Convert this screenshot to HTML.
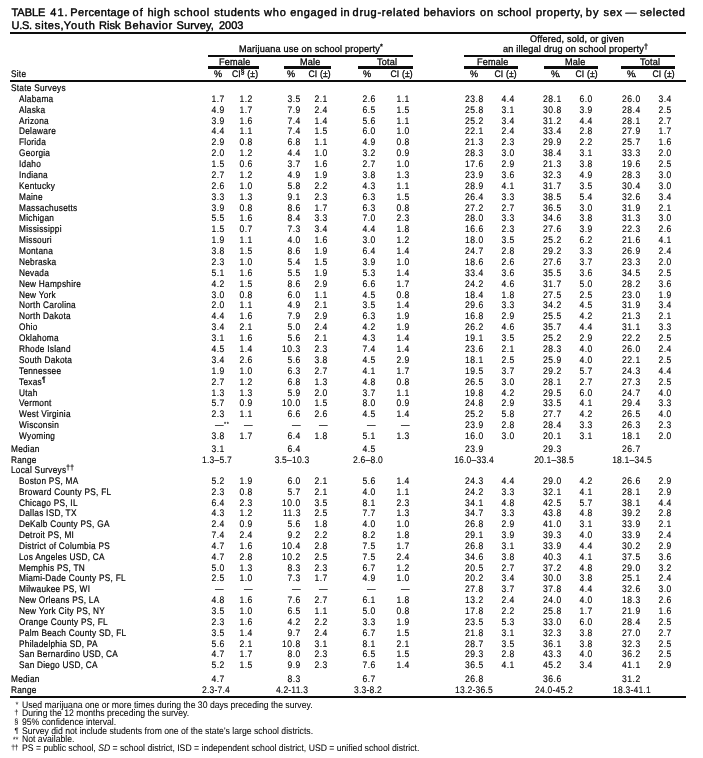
<!DOCTYPE html>
<html><head><meta charset="utf-8"><style>
html,body{margin:0;padding:0;background:#fff;}
body{width:703px;height:758px;position:relative;overflow:hidden;color:#000;-webkit-text-stroke:0;font-family:"Liberation Sans",sans-serif;}
div{position:absolute;white-space:nowrap;line-height:10px;}
#wrap{left:0;top:0;width:703px;height:758px;will-change:transform;text-rendering:geometricPrecision;}
.c{width:120px;text-align:center;}
.rule{background:#0d0d0d;}
.title{font-size:11px;font-weight:normal;line-height:11px;-webkit-text-stroke:0.4px #000;letter-spacing:0.5px;}
.title2{font-size:11px;font-weight:normal;line-height:11px;-webkit-text-stroke:0.4px #000;letter-spacing:0.3px;}
sup{font-size:7.5px;vertical-align:0;position:relative;top:-2.5px;}
.ov{position:absolute;left:100%;font-size:6px;top:-1px;}
.fs{font-size:7.5px;}
</style></head><body><div id="wrap">
<div class="title" style="left:11.5px;top:7.5px;letter-spacing:-0.05px">TABLE</div>
<div class="title" style="left:50.3px;top:7.5px;letter-spacing:1.0px">41.</div>
<div class="title" style="left:70.3px;top:7.5px;letter-spacing:0.33px">Percentage</div>
<div class="title" style="left:132.6px;top:7.5px;letter-spacing:1.0px">of</div>
<div class="title" style="left:147.4px;top:7.5px;letter-spacing:0.53px">high</div>
<div class="title" style="left:174.0px;top:7.5px;letter-spacing:0.7px">school</div>
<div class="title" style="left:214.3px;top:7.5px;letter-spacing:0.56px">students</div>
<div class="title" style="left:263.9px;top:7.5px;letter-spacing:0.9px">who</div>
<div class="title" style="left:290.3px;top:7.5px;letter-spacing:0.62px">engaged</div>
<div class="title" style="left:340.6px;top:7.5px;letter-spacing:0.4px">in</div>
<div class="title" style="left:352.6px;top:7.5px;letter-spacing:0.7px">drug-related</div>
<div class="title" style="left:423.5px;top:7.5px;letter-spacing:0.46px">behaviors</div>
<div class="title" style="left:479.9px;top:7.5px;letter-spacing:0.9px">on</div>
<div class="title" style="left:497.4px;top:7.5px;letter-spacing:0.38px">school</div>
<div class="title" style="left:535.9px;top:7.5px;letter-spacing:0.53px">property,</div>
<div class="title" style="left:585.8px;top:7.5px;letter-spacing:1.0px">by</div>
<div class="title" style="left:603.4px;top:7.5px;letter-spacing:0.75px">sex</div>
<div class="title" style="left:625.6px;top:7.5px;letter-spacing:0px">—</div>
<div class="title" style="left:640.0px;top:7.5px;letter-spacing:0.57px">selected</div>
<div class="title" style="left:11.5px;top:20.5px;letter-spacing:-0.3px">U.S.</div>
<div class="title" style="left:35.1px;top:20.5px;letter-spacing:0.56px">sites,</div>
<div class="title" style="left:63.8px;top:20.5px;letter-spacing:0.85px">Youth</div>
<div class="title" style="left:98.9px;top:20.5px;letter-spacing:0.1px">Risk</div>
<div class="title" style="left:124.6px;top:20.5px;letter-spacing:0.59px">Behavior</div>
<div class="title" style="left:176.4px;top:20.5px;letter-spacing:0.17px">Survey,</div>
<div class="title" style="left:218.9px;top:20.5px;letter-spacing:0.03px">2003</div>
<div class="rule" style="left:10px;top:32px;width:676px;height:2px"></div>
<div style="left:530.00px;top:34.70px;font-size:9.5px;letter-spacing:0.2px;transform:scale(0.96,1);-webkit-text-stroke:0.3px #000;transform-origin:0 8px">Offered, sold, or given</div>
<div style="left:238.60px;top:44.70px;font-size:9.5px;letter-spacing:0.2px;transform:scale(0.96,1);-webkit-text-stroke:0.3px #000;transform-origin:0 8px">Marijuana use on school property<sup>*</sup></div>
<div style="left:502.90px;top:44.90px;font-size:9.5px;letter-spacing:0.2px;transform:scale(0.96,1);-webkit-text-stroke:0.3px #000;transform-origin:0 8px">an illegal drug on school property<sup>†</sup></div>
<div class="rule" style="left:208px;top:55px;width:205px;height:2px"></div>
<div class="rule" style="left:464px;top:55px;width:211px;height:2px"></div>
<div style="left:219.20px;top:58.00px;font-size:9.5px;letter-spacing:0.2px;transform:scale(0.96,1);-webkit-text-stroke:0.3px #000;transform-origin:0 8px">Female</div>
<div style="left:299.80px;top:58.00px;font-size:9.5px;letter-spacing:0.2px;transform:scale(0.96,1);-webkit-text-stroke:0.3px #000;transform-origin:0 8px">Male</div>
<div style="left:377.00px;top:58.00px;font-size:9.5px;letter-spacing:0.2px;transform:scale(0.96,1);-webkit-text-stroke:0.3px #000;transform-origin:0 8px">Total</div>
<div style="left:477.30px;top:58.00px;font-size:9.5px;letter-spacing:0.2px;transform:scale(0.96,1);-webkit-text-stroke:0.3px #000;transform-origin:0 8px">Female</div>
<div style="left:564.80px;top:58.00px;font-size:9.5px;letter-spacing:0.2px;transform:scale(0.96,1);-webkit-text-stroke:0.3px #000;transform-origin:0 8px">Male</div>
<div style="left:640.00px;top:58.00px;font-size:9.5px;letter-spacing:0.2px;transform:scale(0.96,1);-webkit-text-stroke:0.3px #000;transform-origin:0 8px">Total</div>
<div class="rule" style="left:208px;top:66px;width:51px;height:3px"></div>
<div class="rule" style="left:284px;top:66px;width:47px;height:3px"></div>
<div class="rule" style="left:358px;top:66px;width:55px;height:3px"></div>
<div class="rule" style="left:464px;top:66px;width:54px;height:3px"></div>
<div class="rule" style="left:544px;top:66px;width:54px;height:3px"></div>
<div class="rule" style="left:621px;top:66px;width:54px;height:3px"></div>
<div style="left:10.70px;top:69.80px;font-size:9.5px;letter-spacing:0.3px;transform:scale(0.87,1);-webkit-text-stroke:0.2px #000;transform-origin:0 8px">Site</div>
<div style="left:213.80px;top:69.80px;font-size:9.5px;letter-spacing:0.2px;transform:scale(0.96,1);-webkit-text-stroke:0.3px #000;transform-origin:0 8px">%</div>
<div style="left:287.00px;top:69.80px;font-size:9.5px;letter-spacing:0.2px;transform:scale(0.96,1);-webkit-text-stroke:0.3px #000;transform-origin:0 8px">%</div>
<div style="left:362.70px;top:69.80px;font-size:9.5px;letter-spacing:0.2px;transform:scale(0.96,1);-webkit-text-stroke:0.3px #000;transform-origin:0 8px">%</div>
<div style="left:470.00px;top:69.80px;font-size:9.5px;letter-spacing:0.2px;transform:scale(0.96,1);-webkit-text-stroke:0.3px #000;transform-origin:0 8px">%</div>
<div style="left:551.00px;top:69.80px;font-size:9.5px;letter-spacing:0.2px;transform:scale(0.96,1);-webkit-text-stroke:0.3px #000;transform-origin:0 8px">%<span style="margin-left:-1.3px">.</span></div>
<div style="left:626.70px;top:69.80px;font-size:9.5px;letter-spacing:0.2px;transform:scale(0.96,1);-webkit-text-stroke:0.3px #000;transform-origin:0 8px">%<span style="margin-left:-1.3px">.</span></div>
<div style="right:444.82px;top:69.80px;font-size:9.5px;letter-spacing:0.2px;transform:scale(0.9,1);-webkit-text-stroke:0.3px #000;transform-origin:100% 8px">CI<sup>§</sup> (±)</div>
<div style="right:372.42px;top:69.80px;font-size:9.5px;letter-spacing:0.2px;transform:scale(0.9,1);-webkit-text-stroke:0.3px #000;transform-origin:100% 8px">CI (±)</div>
<div style="right:290.02px;top:69.80px;font-size:9.5px;letter-spacing:0.2px;transform:scale(0.9,1);-webkit-text-stroke:0.3px #000;transform-origin:100% 8px">CI (±)</div>
<div style="right:186.22px;top:69.80px;font-size:9.5px;letter-spacing:0.2px;transform:scale(0.9,1);-webkit-text-stroke:0.3px #000;transform-origin:100% 8px">CI (±)</div>
<div style="right:104.82px;top:69.80px;font-size:9.5px;letter-spacing:0.2px;transform:scale(0.9,1);-webkit-text-stroke:0.3px #000;transform-origin:100% 8px">CI (±)</div>
<div style="right:28.42px;top:69.80px;font-size:9.5px;letter-spacing:0.2px;transform:scale(0.9,1);-webkit-text-stroke:0.3px #000;transform-origin:100% 8px">CI (±)</div>
<div class="rule" style="left:10px;top:80px;width:676px;height:2px"></div>
<div style="left:11.00px;top:83.90px;font-size:9.5px;letter-spacing:0.3px;transform:scale(0.87,1);-webkit-text-stroke:0.2px #000;transform-origin:0 8px">State Surveys</div>
<div style="left:18.70px;top:94.75px;font-size:9.5px;letter-spacing:0.3px;transform:scale(0.87,1);-webkit-text-stroke:0.2px #000;transform-origin:0 8px">Alabama</div>
<div style="right:478.61px;top:94.75px;font-size:9.5px;letter-spacing:0.55px;transform:scale(0.9,1);-webkit-text-stroke:0.12px #000;transform-origin:100% 8px">1.7</div>
<div style="right:450.21px;top:94.75px;font-size:9.5px;letter-spacing:0.55px;transform:scale(0.9,1);-webkit-text-stroke:0.12px #000;transform-origin:100% 8px">1.2</div>
<div style="right:402.11px;top:94.75px;font-size:9.5px;letter-spacing:0.55px;transform:scale(0.9,1);-webkit-text-stroke:0.12px #000;transform-origin:100% 8px">3.5</div>
<div style="right:374.81px;top:94.75px;font-size:9.5px;letter-spacing:0.55px;transform:scale(0.9,1);-webkit-text-stroke:0.12px #000;transform-origin:100% 8px">2.1</div>
<div style="right:327.00px;top:94.75px;font-size:9.5px;letter-spacing:0.55px;transform:scale(0.9,1);-webkit-text-stroke:0.12px #000;transform-origin:100% 8px">2.6</div>
<div style="right:293.21px;top:94.75px;font-size:9.5px;letter-spacing:0.55px;transform:scale(0.9,1);-webkit-text-stroke:0.12px #000;transform-origin:100% 8px">1.1</div>
<div style="right:219.10px;top:94.75px;font-size:9.5px;letter-spacing:0.55px;transform:scale(0.9,1);-webkit-text-stroke:0.12px #000;transform-origin:100% 8px">23.8</div>
<div style="right:188.31px;top:94.75px;font-size:9.5px;letter-spacing:0.55px;transform:scale(0.9,1);-webkit-text-stroke:0.12px #000;transform-origin:100% 8px">4.4</div>
<div style="right:141.10px;top:94.75px;font-size:9.5px;letter-spacing:0.55px;transform:scale(0.9,1);-webkit-text-stroke:0.12px #000;transform-origin:100% 8px">28.1</div>
<div style="right:109.90px;top:94.75px;font-size:9.5px;letter-spacing:0.55px;transform:scale(0.9,1);-webkit-text-stroke:0.12px #000;transform-origin:100% 8px">6.0</div>
<div style="right:62.11px;top:94.75px;font-size:9.5px;letter-spacing:0.55px;transform:scale(0.9,1);-webkit-text-stroke:0.12px #000;transform-origin:100% 8px">26.0</div>
<div style="right:31.11px;top:94.75px;font-size:9.5px;letter-spacing:0.55px;transform:scale(0.9,1);-webkit-text-stroke:0.12px #000;transform-origin:100% 8px">3.4</div>
<div style="left:18.70px;top:105.63px;font-size:9.5px;letter-spacing:0.3px;transform:scale(0.87,1);-webkit-text-stroke:0.2px #000;transform-origin:0 8px">Alaska</div>
<div style="right:478.61px;top:105.63px;font-size:9.5px;letter-spacing:0.55px;transform:scale(0.9,1);-webkit-text-stroke:0.12px #000;transform-origin:100% 8px">4.9</div>
<div style="right:450.21px;top:105.63px;font-size:9.5px;letter-spacing:0.55px;transform:scale(0.9,1);-webkit-text-stroke:0.12px #000;transform-origin:100% 8px">1.7</div>
<div style="right:402.11px;top:105.63px;font-size:9.5px;letter-spacing:0.55px;transform:scale(0.9,1);-webkit-text-stroke:0.12px #000;transform-origin:100% 8px">7.9</div>
<div style="right:374.81px;top:105.63px;font-size:9.5px;letter-spacing:0.55px;transform:scale(0.9,1);-webkit-text-stroke:0.12px #000;transform-origin:100% 8px">2.4</div>
<div style="right:327.00px;top:105.63px;font-size:9.5px;letter-spacing:0.55px;transform:scale(0.9,1);-webkit-text-stroke:0.12px #000;transform-origin:100% 8px">6.5</div>
<div style="right:293.21px;top:105.63px;font-size:9.5px;letter-spacing:0.55px;transform:scale(0.9,1);-webkit-text-stroke:0.12px #000;transform-origin:100% 8px">1.5</div>
<div style="right:219.10px;top:105.63px;font-size:9.5px;letter-spacing:0.55px;transform:scale(0.9,1);-webkit-text-stroke:0.12px #000;transform-origin:100% 8px">25.8</div>
<div style="right:188.31px;top:105.63px;font-size:9.5px;letter-spacing:0.55px;transform:scale(0.9,1);-webkit-text-stroke:0.12px #000;transform-origin:100% 8px">3.1</div>
<div style="right:141.10px;top:105.63px;font-size:9.5px;letter-spacing:0.55px;transform:scale(0.9,1);-webkit-text-stroke:0.12px #000;transform-origin:100% 8px">30.8</div>
<div style="right:109.90px;top:105.63px;font-size:9.5px;letter-spacing:0.55px;transform:scale(0.9,1);-webkit-text-stroke:0.12px #000;transform-origin:100% 8px">3.9</div>
<div style="right:62.11px;top:105.63px;font-size:9.5px;letter-spacing:0.55px;transform:scale(0.9,1);-webkit-text-stroke:0.12px #000;transform-origin:100% 8px">28.4</div>
<div style="right:31.11px;top:105.63px;font-size:9.5px;letter-spacing:0.55px;transform:scale(0.9,1);-webkit-text-stroke:0.12px #000;transform-origin:100% 8px">2.5</div>
<div style="left:18.70px;top:116.51px;font-size:9.5px;letter-spacing:0.3px;transform:scale(0.87,1);-webkit-text-stroke:0.2px #000;transform-origin:0 8px">Arizona</div>
<div style="right:478.61px;top:116.51px;font-size:9.5px;letter-spacing:0.55px;transform:scale(0.9,1);-webkit-text-stroke:0.12px #000;transform-origin:100% 8px">3.9</div>
<div style="right:450.21px;top:116.51px;font-size:9.5px;letter-spacing:0.55px;transform:scale(0.9,1);-webkit-text-stroke:0.12px #000;transform-origin:100% 8px">1.6</div>
<div style="right:402.11px;top:116.51px;font-size:9.5px;letter-spacing:0.55px;transform:scale(0.9,1);-webkit-text-stroke:0.12px #000;transform-origin:100% 8px">7.4</div>
<div style="right:374.81px;top:116.51px;font-size:9.5px;letter-spacing:0.55px;transform:scale(0.9,1);-webkit-text-stroke:0.12px #000;transform-origin:100% 8px">1.4</div>
<div style="right:327.00px;top:116.51px;font-size:9.5px;letter-spacing:0.55px;transform:scale(0.9,1);-webkit-text-stroke:0.12px #000;transform-origin:100% 8px">5.6</div>
<div style="right:293.21px;top:116.51px;font-size:9.5px;letter-spacing:0.55px;transform:scale(0.9,1);-webkit-text-stroke:0.12px #000;transform-origin:100% 8px">1.1</div>
<div style="right:219.10px;top:116.51px;font-size:9.5px;letter-spacing:0.55px;transform:scale(0.9,1);-webkit-text-stroke:0.12px #000;transform-origin:100% 8px">25.2</div>
<div style="right:188.31px;top:116.51px;font-size:9.5px;letter-spacing:0.55px;transform:scale(0.9,1);-webkit-text-stroke:0.12px #000;transform-origin:100% 8px">3.4</div>
<div style="right:141.10px;top:116.51px;font-size:9.5px;letter-spacing:0.55px;transform:scale(0.9,1);-webkit-text-stroke:0.12px #000;transform-origin:100% 8px">31.2</div>
<div style="right:109.90px;top:116.51px;font-size:9.5px;letter-spacing:0.55px;transform:scale(0.9,1);-webkit-text-stroke:0.12px #000;transform-origin:100% 8px">4.4</div>
<div style="right:62.11px;top:116.51px;font-size:9.5px;letter-spacing:0.55px;transform:scale(0.9,1);-webkit-text-stroke:0.12px #000;transform-origin:100% 8px">28.1</div>
<div style="right:31.11px;top:116.51px;font-size:9.5px;letter-spacing:0.55px;transform:scale(0.9,1);-webkit-text-stroke:0.12px #000;transform-origin:100% 8px">2.7</div>
<div style="left:18.70px;top:127.39px;font-size:9.5px;letter-spacing:0.3px;transform:scale(0.87,1);-webkit-text-stroke:0.2px #000;transform-origin:0 8px">Delaware</div>
<div style="right:478.61px;top:127.39px;font-size:9.5px;letter-spacing:0.55px;transform:scale(0.9,1);-webkit-text-stroke:0.12px #000;transform-origin:100% 8px">4.4</div>
<div style="right:450.21px;top:127.39px;font-size:9.5px;letter-spacing:0.55px;transform:scale(0.9,1);-webkit-text-stroke:0.12px #000;transform-origin:100% 8px">1.1</div>
<div style="right:402.11px;top:127.39px;font-size:9.5px;letter-spacing:0.55px;transform:scale(0.9,1);-webkit-text-stroke:0.12px #000;transform-origin:100% 8px">7.4</div>
<div style="right:374.81px;top:127.39px;font-size:9.5px;letter-spacing:0.55px;transform:scale(0.9,1);-webkit-text-stroke:0.12px #000;transform-origin:100% 8px">1.5</div>
<div style="right:327.00px;top:127.39px;font-size:9.5px;letter-spacing:0.55px;transform:scale(0.9,1);-webkit-text-stroke:0.12px #000;transform-origin:100% 8px">6.0</div>
<div style="right:293.21px;top:127.39px;font-size:9.5px;letter-spacing:0.55px;transform:scale(0.9,1);-webkit-text-stroke:0.12px #000;transform-origin:100% 8px">1.0</div>
<div style="right:219.10px;top:127.39px;font-size:9.5px;letter-spacing:0.55px;transform:scale(0.9,1);-webkit-text-stroke:0.12px #000;transform-origin:100% 8px">22.1</div>
<div style="right:188.31px;top:127.39px;font-size:9.5px;letter-spacing:0.55px;transform:scale(0.9,1);-webkit-text-stroke:0.12px #000;transform-origin:100% 8px">2.4</div>
<div style="right:141.10px;top:127.39px;font-size:9.5px;letter-spacing:0.55px;transform:scale(0.9,1);-webkit-text-stroke:0.12px #000;transform-origin:100% 8px">33.4</div>
<div style="right:109.90px;top:127.39px;font-size:9.5px;letter-spacing:0.55px;transform:scale(0.9,1);-webkit-text-stroke:0.12px #000;transform-origin:100% 8px">2.8</div>
<div style="right:62.11px;top:127.39px;font-size:9.5px;letter-spacing:0.55px;transform:scale(0.9,1);-webkit-text-stroke:0.12px #000;transform-origin:100% 8px">27.9</div>
<div style="right:31.11px;top:127.39px;font-size:9.5px;letter-spacing:0.55px;transform:scale(0.9,1);-webkit-text-stroke:0.12px #000;transform-origin:100% 8px">1.7</div>
<div style="left:18.70px;top:138.27px;font-size:9.5px;letter-spacing:0.3px;transform:scale(0.87,1);-webkit-text-stroke:0.2px #000;transform-origin:0 8px">Florida</div>
<div style="right:478.61px;top:138.27px;font-size:9.5px;letter-spacing:0.55px;transform:scale(0.9,1);-webkit-text-stroke:0.12px #000;transform-origin:100% 8px">2.9</div>
<div style="right:450.21px;top:138.27px;font-size:9.5px;letter-spacing:0.55px;transform:scale(0.9,1);-webkit-text-stroke:0.12px #000;transform-origin:100% 8px">0.8</div>
<div style="right:402.11px;top:138.27px;font-size:9.5px;letter-spacing:0.55px;transform:scale(0.9,1);-webkit-text-stroke:0.12px #000;transform-origin:100% 8px">6.8</div>
<div style="right:374.81px;top:138.27px;font-size:9.5px;letter-spacing:0.55px;transform:scale(0.9,1);-webkit-text-stroke:0.12px #000;transform-origin:100% 8px">1.1</div>
<div style="right:327.00px;top:138.27px;font-size:9.5px;letter-spacing:0.55px;transform:scale(0.9,1);-webkit-text-stroke:0.12px #000;transform-origin:100% 8px">4.9</div>
<div style="right:293.21px;top:138.27px;font-size:9.5px;letter-spacing:0.55px;transform:scale(0.9,1);-webkit-text-stroke:0.12px #000;transform-origin:100% 8px">0.8</div>
<div style="right:219.10px;top:138.27px;font-size:9.5px;letter-spacing:0.55px;transform:scale(0.9,1);-webkit-text-stroke:0.12px #000;transform-origin:100% 8px">21.3</div>
<div style="right:188.31px;top:138.27px;font-size:9.5px;letter-spacing:0.55px;transform:scale(0.9,1);-webkit-text-stroke:0.12px #000;transform-origin:100% 8px">2.3</div>
<div style="right:141.10px;top:138.27px;font-size:9.5px;letter-spacing:0.55px;transform:scale(0.9,1);-webkit-text-stroke:0.12px #000;transform-origin:100% 8px">29.9</div>
<div style="right:109.90px;top:138.27px;font-size:9.5px;letter-spacing:0.55px;transform:scale(0.9,1);-webkit-text-stroke:0.12px #000;transform-origin:100% 8px">2.2</div>
<div style="right:62.11px;top:138.27px;font-size:9.5px;letter-spacing:0.55px;transform:scale(0.9,1);-webkit-text-stroke:0.12px #000;transform-origin:100% 8px">25.7</div>
<div style="right:31.11px;top:138.27px;font-size:9.5px;letter-spacing:0.55px;transform:scale(0.9,1);-webkit-text-stroke:0.12px #000;transform-origin:100% 8px">1.6</div>
<div style="left:18.70px;top:149.16px;font-size:9.5px;letter-spacing:0.3px;transform:scale(0.87,1);-webkit-text-stroke:0.2px #000;transform-origin:0 8px">Georgia</div>
<div style="right:478.61px;top:149.16px;font-size:9.5px;letter-spacing:0.55px;transform:scale(0.9,1);-webkit-text-stroke:0.12px #000;transform-origin:100% 8px">2.0</div>
<div style="right:450.21px;top:149.16px;font-size:9.5px;letter-spacing:0.55px;transform:scale(0.9,1);-webkit-text-stroke:0.12px #000;transform-origin:100% 8px">1.2</div>
<div style="right:402.11px;top:149.16px;font-size:9.5px;letter-spacing:0.55px;transform:scale(0.9,1);-webkit-text-stroke:0.12px #000;transform-origin:100% 8px">4.4</div>
<div style="right:374.81px;top:149.16px;font-size:9.5px;letter-spacing:0.55px;transform:scale(0.9,1);-webkit-text-stroke:0.12px #000;transform-origin:100% 8px">1.0</div>
<div style="right:327.00px;top:149.16px;font-size:9.5px;letter-spacing:0.55px;transform:scale(0.9,1);-webkit-text-stroke:0.12px #000;transform-origin:100% 8px">3.2</div>
<div style="right:293.21px;top:149.16px;font-size:9.5px;letter-spacing:0.55px;transform:scale(0.9,1);-webkit-text-stroke:0.12px #000;transform-origin:100% 8px">0.9</div>
<div style="right:219.10px;top:149.16px;font-size:9.5px;letter-spacing:0.55px;transform:scale(0.9,1);-webkit-text-stroke:0.12px #000;transform-origin:100% 8px">28.3</div>
<div style="right:188.31px;top:149.16px;font-size:9.5px;letter-spacing:0.55px;transform:scale(0.9,1);-webkit-text-stroke:0.12px #000;transform-origin:100% 8px">3.0</div>
<div style="right:141.10px;top:149.16px;font-size:9.5px;letter-spacing:0.55px;transform:scale(0.9,1);-webkit-text-stroke:0.12px #000;transform-origin:100% 8px">38.4</div>
<div style="right:109.90px;top:149.16px;font-size:9.5px;letter-spacing:0.55px;transform:scale(0.9,1);-webkit-text-stroke:0.12px #000;transform-origin:100% 8px">3.1</div>
<div style="right:62.11px;top:149.16px;font-size:9.5px;letter-spacing:0.55px;transform:scale(0.9,1);-webkit-text-stroke:0.12px #000;transform-origin:100% 8px">33.3</div>
<div style="right:31.11px;top:149.16px;font-size:9.5px;letter-spacing:0.55px;transform:scale(0.9,1);-webkit-text-stroke:0.12px #000;transform-origin:100% 8px">2.0</div>
<div style="left:18.70px;top:160.04px;font-size:9.5px;letter-spacing:0.3px;transform:scale(0.87,1);-webkit-text-stroke:0.2px #000;transform-origin:0 8px">Idaho</div>
<div style="right:478.61px;top:160.04px;font-size:9.5px;letter-spacing:0.55px;transform:scale(0.9,1);-webkit-text-stroke:0.12px #000;transform-origin:100% 8px">1.5</div>
<div style="right:450.21px;top:160.04px;font-size:9.5px;letter-spacing:0.55px;transform:scale(0.9,1);-webkit-text-stroke:0.12px #000;transform-origin:100% 8px">0.6</div>
<div style="right:402.11px;top:160.04px;font-size:9.5px;letter-spacing:0.55px;transform:scale(0.9,1);-webkit-text-stroke:0.12px #000;transform-origin:100% 8px">3.7</div>
<div style="right:374.81px;top:160.04px;font-size:9.5px;letter-spacing:0.55px;transform:scale(0.9,1);-webkit-text-stroke:0.12px #000;transform-origin:100% 8px">1.6</div>
<div style="right:327.00px;top:160.04px;font-size:9.5px;letter-spacing:0.55px;transform:scale(0.9,1);-webkit-text-stroke:0.12px #000;transform-origin:100% 8px">2.7</div>
<div style="right:293.21px;top:160.04px;font-size:9.5px;letter-spacing:0.55px;transform:scale(0.9,1);-webkit-text-stroke:0.12px #000;transform-origin:100% 8px">1.0</div>
<div style="right:219.10px;top:160.04px;font-size:9.5px;letter-spacing:0.55px;transform:scale(0.9,1);-webkit-text-stroke:0.12px #000;transform-origin:100% 8px">17.6</div>
<div style="right:188.31px;top:160.04px;font-size:9.5px;letter-spacing:0.55px;transform:scale(0.9,1);-webkit-text-stroke:0.12px #000;transform-origin:100% 8px">2.9</div>
<div style="right:141.10px;top:160.04px;font-size:9.5px;letter-spacing:0.55px;transform:scale(0.9,1);-webkit-text-stroke:0.12px #000;transform-origin:100% 8px">21.3</div>
<div style="right:109.90px;top:160.04px;font-size:9.5px;letter-spacing:0.55px;transform:scale(0.9,1);-webkit-text-stroke:0.12px #000;transform-origin:100% 8px">3.8</div>
<div style="right:62.11px;top:160.04px;font-size:9.5px;letter-spacing:0.55px;transform:scale(0.9,1);-webkit-text-stroke:0.12px #000;transform-origin:100% 8px">19.6</div>
<div style="right:31.11px;top:160.04px;font-size:9.5px;letter-spacing:0.55px;transform:scale(0.9,1);-webkit-text-stroke:0.12px #000;transform-origin:100% 8px">2.5</div>
<div style="left:18.70px;top:170.92px;font-size:9.5px;letter-spacing:0.3px;transform:scale(0.87,1);-webkit-text-stroke:0.2px #000;transform-origin:0 8px">Indiana</div>
<div style="right:478.61px;top:170.92px;font-size:9.5px;letter-spacing:0.55px;transform:scale(0.9,1);-webkit-text-stroke:0.12px #000;transform-origin:100% 8px">2.7</div>
<div style="right:450.21px;top:170.92px;font-size:9.5px;letter-spacing:0.55px;transform:scale(0.9,1);-webkit-text-stroke:0.12px #000;transform-origin:100% 8px">1.2</div>
<div style="right:402.11px;top:170.92px;font-size:9.5px;letter-spacing:0.55px;transform:scale(0.9,1);-webkit-text-stroke:0.12px #000;transform-origin:100% 8px">4.9</div>
<div style="right:374.81px;top:170.92px;font-size:9.5px;letter-spacing:0.55px;transform:scale(0.9,1);-webkit-text-stroke:0.12px #000;transform-origin:100% 8px">1.9</div>
<div style="right:327.00px;top:170.92px;font-size:9.5px;letter-spacing:0.55px;transform:scale(0.9,1);-webkit-text-stroke:0.12px #000;transform-origin:100% 8px">3.8</div>
<div style="right:293.21px;top:170.92px;font-size:9.5px;letter-spacing:0.55px;transform:scale(0.9,1);-webkit-text-stroke:0.12px #000;transform-origin:100% 8px">1.3</div>
<div style="right:219.10px;top:170.92px;font-size:9.5px;letter-spacing:0.55px;transform:scale(0.9,1);-webkit-text-stroke:0.12px #000;transform-origin:100% 8px">23.9</div>
<div style="right:188.31px;top:170.92px;font-size:9.5px;letter-spacing:0.55px;transform:scale(0.9,1);-webkit-text-stroke:0.12px #000;transform-origin:100% 8px">3.6</div>
<div style="right:141.10px;top:170.92px;font-size:9.5px;letter-spacing:0.55px;transform:scale(0.9,1);-webkit-text-stroke:0.12px #000;transform-origin:100% 8px">32.3</div>
<div style="right:109.90px;top:170.92px;font-size:9.5px;letter-spacing:0.55px;transform:scale(0.9,1);-webkit-text-stroke:0.12px #000;transform-origin:100% 8px">4.9</div>
<div style="right:62.11px;top:170.92px;font-size:9.5px;letter-spacing:0.55px;transform:scale(0.9,1);-webkit-text-stroke:0.12px #000;transform-origin:100% 8px">28.3</div>
<div style="right:31.11px;top:170.92px;font-size:9.5px;letter-spacing:0.55px;transform:scale(0.9,1);-webkit-text-stroke:0.12px #000;transform-origin:100% 8px">3.0</div>
<div style="left:18.70px;top:181.80px;font-size:9.5px;letter-spacing:0.3px;transform:scale(0.87,1);-webkit-text-stroke:0.2px #000;transform-origin:0 8px">Kentucky</div>
<div style="right:478.61px;top:181.80px;font-size:9.5px;letter-spacing:0.55px;transform:scale(0.9,1);-webkit-text-stroke:0.12px #000;transform-origin:100% 8px">2.6</div>
<div style="right:450.21px;top:181.80px;font-size:9.5px;letter-spacing:0.55px;transform:scale(0.9,1);-webkit-text-stroke:0.12px #000;transform-origin:100% 8px">1.0</div>
<div style="right:402.11px;top:181.80px;font-size:9.5px;letter-spacing:0.55px;transform:scale(0.9,1);-webkit-text-stroke:0.12px #000;transform-origin:100% 8px">5.8</div>
<div style="right:374.81px;top:181.80px;font-size:9.5px;letter-spacing:0.55px;transform:scale(0.9,1);-webkit-text-stroke:0.12px #000;transform-origin:100% 8px">2.2</div>
<div style="right:327.00px;top:181.80px;font-size:9.5px;letter-spacing:0.55px;transform:scale(0.9,1);-webkit-text-stroke:0.12px #000;transform-origin:100% 8px">4.3</div>
<div style="right:293.21px;top:181.80px;font-size:9.5px;letter-spacing:0.55px;transform:scale(0.9,1);-webkit-text-stroke:0.12px #000;transform-origin:100% 8px">1.1</div>
<div style="right:219.10px;top:181.80px;font-size:9.5px;letter-spacing:0.55px;transform:scale(0.9,1);-webkit-text-stroke:0.12px #000;transform-origin:100% 8px">28.9</div>
<div style="right:188.31px;top:181.80px;font-size:9.5px;letter-spacing:0.55px;transform:scale(0.9,1);-webkit-text-stroke:0.12px #000;transform-origin:100% 8px">4.1</div>
<div style="right:141.10px;top:181.80px;font-size:9.5px;letter-spacing:0.55px;transform:scale(0.9,1);-webkit-text-stroke:0.12px #000;transform-origin:100% 8px">31.7</div>
<div style="right:109.90px;top:181.80px;font-size:9.5px;letter-spacing:0.55px;transform:scale(0.9,1);-webkit-text-stroke:0.12px #000;transform-origin:100% 8px">3.5</div>
<div style="right:62.11px;top:181.80px;font-size:9.5px;letter-spacing:0.55px;transform:scale(0.9,1);-webkit-text-stroke:0.12px #000;transform-origin:100% 8px">30.4</div>
<div style="right:31.11px;top:181.80px;font-size:9.5px;letter-spacing:0.55px;transform:scale(0.9,1);-webkit-text-stroke:0.12px #000;transform-origin:100% 8px">3.0</div>
<div style="left:18.70px;top:192.68px;font-size:9.5px;letter-spacing:0.3px;transform:scale(0.87,1);-webkit-text-stroke:0.2px #000;transform-origin:0 8px">Maine</div>
<div style="right:478.61px;top:192.68px;font-size:9.5px;letter-spacing:0.55px;transform:scale(0.9,1);-webkit-text-stroke:0.12px #000;transform-origin:100% 8px">3.3</div>
<div style="right:450.21px;top:192.68px;font-size:9.5px;letter-spacing:0.55px;transform:scale(0.9,1);-webkit-text-stroke:0.12px #000;transform-origin:100% 8px">1.3</div>
<div style="right:402.11px;top:192.68px;font-size:9.5px;letter-spacing:0.55px;transform:scale(0.9,1);-webkit-text-stroke:0.12px #000;transform-origin:100% 8px">9.1</div>
<div style="right:374.81px;top:192.68px;font-size:9.5px;letter-spacing:0.55px;transform:scale(0.9,1);-webkit-text-stroke:0.12px #000;transform-origin:100% 8px">2.3</div>
<div style="right:327.00px;top:192.68px;font-size:9.5px;letter-spacing:0.55px;transform:scale(0.9,1);-webkit-text-stroke:0.12px #000;transform-origin:100% 8px">6.3</div>
<div style="right:293.21px;top:192.68px;font-size:9.5px;letter-spacing:0.55px;transform:scale(0.9,1);-webkit-text-stroke:0.12px #000;transform-origin:100% 8px">1.5</div>
<div style="right:219.10px;top:192.68px;font-size:9.5px;letter-spacing:0.55px;transform:scale(0.9,1);-webkit-text-stroke:0.12px #000;transform-origin:100% 8px">26.4</div>
<div style="right:188.31px;top:192.68px;font-size:9.5px;letter-spacing:0.55px;transform:scale(0.9,1);-webkit-text-stroke:0.12px #000;transform-origin:100% 8px">3.3</div>
<div style="right:141.10px;top:192.68px;font-size:9.5px;letter-spacing:0.55px;transform:scale(0.9,1);-webkit-text-stroke:0.12px #000;transform-origin:100% 8px">38.5</div>
<div style="right:109.90px;top:192.68px;font-size:9.5px;letter-spacing:0.55px;transform:scale(0.9,1);-webkit-text-stroke:0.12px #000;transform-origin:100% 8px">5.4</div>
<div style="right:62.11px;top:192.68px;font-size:9.5px;letter-spacing:0.55px;transform:scale(0.9,1);-webkit-text-stroke:0.12px #000;transform-origin:100% 8px">32.6</div>
<div style="right:31.11px;top:192.68px;font-size:9.5px;letter-spacing:0.55px;transform:scale(0.9,1);-webkit-text-stroke:0.12px #000;transform-origin:100% 8px">3.4</div>
<div style="left:18.70px;top:203.56px;font-size:9.5px;letter-spacing:0.3px;transform:scale(0.87,1);-webkit-text-stroke:0.2px #000;transform-origin:0 8px">Massachusetts</div>
<div style="right:478.61px;top:203.56px;font-size:9.5px;letter-spacing:0.55px;transform:scale(0.9,1);-webkit-text-stroke:0.12px #000;transform-origin:100% 8px">3.9</div>
<div style="right:450.21px;top:203.56px;font-size:9.5px;letter-spacing:0.55px;transform:scale(0.9,1);-webkit-text-stroke:0.12px #000;transform-origin:100% 8px">0.8</div>
<div style="right:402.11px;top:203.56px;font-size:9.5px;letter-spacing:0.55px;transform:scale(0.9,1);-webkit-text-stroke:0.12px #000;transform-origin:100% 8px">8.6</div>
<div style="right:374.81px;top:203.56px;font-size:9.5px;letter-spacing:0.55px;transform:scale(0.9,1);-webkit-text-stroke:0.12px #000;transform-origin:100% 8px">1.7</div>
<div style="right:327.00px;top:203.56px;font-size:9.5px;letter-spacing:0.55px;transform:scale(0.9,1);-webkit-text-stroke:0.12px #000;transform-origin:100% 8px">6.3</div>
<div style="right:293.21px;top:203.56px;font-size:9.5px;letter-spacing:0.55px;transform:scale(0.9,1);-webkit-text-stroke:0.12px #000;transform-origin:100% 8px">0.8</div>
<div style="right:219.10px;top:203.56px;font-size:9.5px;letter-spacing:0.55px;transform:scale(0.9,1);-webkit-text-stroke:0.12px #000;transform-origin:100% 8px">27.2</div>
<div style="right:188.31px;top:203.56px;font-size:9.5px;letter-spacing:0.55px;transform:scale(0.9,1);-webkit-text-stroke:0.12px #000;transform-origin:100% 8px">2.7</div>
<div style="right:141.10px;top:203.56px;font-size:9.5px;letter-spacing:0.55px;transform:scale(0.9,1);-webkit-text-stroke:0.12px #000;transform-origin:100% 8px">36.5</div>
<div style="right:109.90px;top:203.56px;font-size:9.5px;letter-spacing:0.55px;transform:scale(0.9,1);-webkit-text-stroke:0.12px #000;transform-origin:100% 8px">3.0</div>
<div style="right:62.11px;top:203.56px;font-size:9.5px;letter-spacing:0.55px;transform:scale(0.9,1);-webkit-text-stroke:0.12px #000;transform-origin:100% 8px">31.9</div>
<div style="right:31.11px;top:203.56px;font-size:9.5px;letter-spacing:0.55px;transform:scale(0.9,1);-webkit-text-stroke:0.12px #000;transform-origin:100% 8px">2.1</div>
<div style="left:18.70px;top:214.44px;font-size:9.5px;letter-spacing:0.3px;transform:scale(0.87,1);-webkit-text-stroke:0.2px #000;transform-origin:0 8px">Michigan</div>
<div style="right:478.61px;top:214.44px;font-size:9.5px;letter-spacing:0.55px;transform:scale(0.9,1);-webkit-text-stroke:0.12px #000;transform-origin:100% 8px">5.5</div>
<div style="right:450.21px;top:214.44px;font-size:9.5px;letter-spacing:0.55px;transform:scale(0.9,1);-webkit-text-stroke:0.12px #000;transform-origin:100% 8px">1.6</div>
<div style="right:402.11px;top:214.44px;font-size:9.5px;letter-spacing:0.55px;transform:scale(0.9,1);-webkit-text-stroke:0.12px #000;transform-origin:100% 8px">8.4</div>
<div style="right:374.81px;top:214.44px;font-size:9.5px;letter-spacing:0.55px;transform:scale(0.9,1);-webkit-text-stroke:0.12px #000;transform-origin:100% 8px">3.3</div>
<div style="right:327.00px;top:214.44px;font-size:9.5px;letter-spacing:0.55px;transform:scale(0.9,1);-webkit-text-stroke:0.12px #000;transform-origin:100% 8px">7.0</div>
<div style="right:293.21px;top:214.44px;font-size:9.5px;letter-spacing:0.55px;transform:scale(0.9,1);-webkit-text-stroke:0.12px #000;transform-origin:100% 8px">2.3</div>
<div style="right:219.10px;top:214.44px;font-size:9.5px;letter-spacing:0.55px;transform:scale(0.9,1);-webkit-text-stroke:0.12px #000;transform-origin:100% 8px">28.0</div>
<div style="right:188.31px;top:214.44px;font-size:9.5px;letter-spacing:0.55px;transform:scale(0.9,1);-webkit-text-stroke:0.12px #000;transform-origin:100% 8px">3.3</div>
<div style="right:141.10px;top:214.44px;font-size:9.5px;letter-spacing:0.55px;transform:scale(0.9,1);-webkit-text-stroke:0.12px #000;transform-origin:100% 8px">34.6</div>
<div style="right:109.90px;top:214.44px;font-size:9.5px;letter-spacing:0.55px;transform:scale(0.9,1);-webkit-text-stroke:0.12px #000;transform-origin:100% 8px">3.8</div>
<div style="right:62.11px;top:214.44px;font-size:9.5px;letter-spacing:0.55px;transform:scale(0.9,1);-webkit-text-stroke:0.12px #000;transform-origin:100% 8px">31.3</div>
<div style="right:31.11px;top:214.44px;font-size:9.5px;letter-spacing:0.55px;transform:scale(0.9,1);-webkit-text-stroke:0.12px #000;transform-origin:100% 8px">3.0</div>
<div style="left:18.70px;top:225.32px;font-size:9.5px;letter-spacing:0.3px;transform:scale(0.87,1);-webkit-text-stroke:0.2px #000;transform-origin:0 8px">Mississippi</div>
<div style="right:478.61px;top:225.32px;font-size:9.5px;letter-spacing:0.55px;transform:scale(0.9,1);-webkit-text-stroke:0.12px #000;transform-origin:100% 8px">1.5</div>
<div style="right:450.21px;top:225.32px;font-size:9.5px;letter-spacing:0.55px;transform:scale(0.9,1);-webkit-text-stroke:0.12px #000;transform-origin:100% 8px">0.7</div>
<div style="right:402.11px;top:225.32px;font-size:9.5px;letter-spacing:0.55px;transform:scale(0.9,1);-webkit-text-stroke:0.12px #000;transform-origin:100% 8px">7.3</div>
<div style="right:374.81px;top:225.32px;font-size:9.5px;letter-spacing:0.55px;transform:scale(0.9,1);-webkit-text-stroke:0.12px #000;transform-origin:100% 8px">3.4</div>
<div style="right:327.00px;top:225.32px;font-size:9.5px;letter-spacing:0.55px;transform:scale(0.9,1);-webkit-text-stroke:0.12px #000;transform-origin:100% 8px">4.4</div>
<div style="right:293.21px;top:225.32px;font-size:9.5px;letter-spacing:0.55px;transform:scale(0.9,1);-webkit-text-stroke:0.12px #000;transform-origin:100% 8px">1.8</div>
<div style="right:219.10px;top:225.32px;font-size:9.5px;letter-spacing:0.55px;transform:scale(0.9,1);-webkit-text-stroke:0.12px #000;transform-origin:100% 8px">16.6</div>
<div style="right:188.31px;top:225.32px;font-size:9.5px;letter-spacing:0.55px;transform:scale(0.9,1);-webkit-text-stroke:0.12px #000;transform-origin:100% 8px">2.3</div>
<div style="right:141.10px;top:225.32px;font-size:9.5px;letter-spacing:0.55px;transform:scale(0.9,1);-webkit-text-stroke:0.12px #000;transform-origin:100% 8px">27.6</div>
<div style="right:109.90px;top:225.32px;font-size:9.5px;letter-spacing:0.55px;transform:scale(0.9,1);-webkit-text-stroke:0.12px #000;transform-origin:100% 8px">3.9</div>
<div style="right:62.11px;top:225.32px;font-size:9.5px;letter-spacing:0.55px;transform:scale(0.9,1);-webkit-text-stroke:0.12px #000;transform-origin:100% 8px">22.3</div>
<div style="right:31.11px;top:225.32px;font-size:9.5px;letter-spacing:0.55px;transform:scale(0.9,1);-webkit-text-stroke:0.12px #000;transform-origin:100% 8px">2.6</div>
<div style="left:18.70px;top:236.20px;font-size:9.5px;letter-spacing:0.3px;transform:scale(0.87,1);-webkit-text-stroke:0.2px #000;transform-origin:0 8px">Missouri</div>
<div style="right:478.61px;top:236.20px;font-size:9.5px;letter-spacing:0.55px;transform:scale(0.9,1);-webkit-text-stroke:0.12px #000;transform-origin:100% 8px">1.9</div>
<div style="right:450.21px;top:236.20px;font-size:9.5px;letter-spacing:0.55px;transform:scale(0.9,1);-webkit-text-stroke:0.12px #000;transform-origin:100% 8px">1.1</div>
<div style="right:402.11px;top:236.20px;font-size:9.5px;letter-spacing:0.55px;transform:scale(0.9,1);-webkit-text-stroke:0.12px #000;transform-origin:100% 8px">4.0</div>
<div style="right:374.81px;top:236.20px;font-size:9.5px;letter-spacing:0.55px;transform:scale(0.9,1);-webkit-text-stroke:0.12px #000;transform-origin:100% 8px">1.6</div>
<div style="right:327.00px;top:236.20px;font-size:9.5px;letter-spacing:0.55px;transform:scale(0.9,1);-webkit-text-stroke:0.12px #000;transform-origin:100% 8px">3.0</div>
<div style="right:293.21px;top:236.20px;font-size:9.5px;letter-spacing:0.55px;transform:scale(0.9,1);-webkit-text-stroke:0.12px #000;transform-origin:100% 8px">1.2</div>
<div style="right:219.10px;top:236.20px;font-size:9.5px;letter-spacing:0.55px;transform:scale(0.9,1);-webkit-text-stroke:0.12px #000;transform-origin:100% 8px">18.0</div>
<div style="right:188.31px;top:236.20px;font-size:9.5px;letter-spacing:0.55px;transform:scale(0.9,1);-webkit-text-stroke:0.12px #000;transform-origin:100% 8px">3.5</div>
<div style="right:141.10px;top:236.20px;font-size:9.5px;letter-spacing:0.55px;transform:scale(0.9,1);-webkit-text-stroke:0.12px #000;transform-origin:100% 8px">25.2</div>
<div style="right:109.90px;top:236.20px;font-size:9.5px;letter-spacing:0.55px;transform:scale(0.9,1);-webkit-text-stroke:0.12px #000;transform-origin:100% 8px">6.2</div>
<div style="right:62.11px;top:236.20px;font-size:9.5px;letter-spacing:0.55px;transform:scale(0.9,1);-webkit-text-stroke:0.12px #000;transform-origin:100% 8px">21.6</div>
<div style="right:31.11px;top:236.20px;font-size:9.5px;letter-spacing:0.55px;transform:scale(0.9,1);-webkit-text-stroke:0.12px #000;transform-origin:100% 8px">4.1</div>
<div style="left:18.70px;top:247.08px;font-size:9.5px;letter-spacing:0.3px;transform:scale(0.87,1);-webkit-text-stroke:0.2px #000;transform-origin:0 8px">Montana</div>
<div style="right:478.61px;top:247.08px;font-size:9.5px;letter-spacing:0.55px;transform:scale(0.9,1);-webkit-text-stroke:0.12px #000;transform-origin:100% 8px">3.8</div>
<div style="right:450.21px;top:247.08px;font-size:9.5px;letter-spacing:0.55px;transform:scale(0.9,1);-webkit-text-stroke:0.12px #000;transform-origin:100% 8px">1.5</div>
<div style="right:402.11px;top:247.08px;font-size:9.5px;letter-spacing:0.55px;transform:scale(0.9,1);-webkit-text-stroke:0.12px #000;transform-origin:100% 8px">8.6</div>
<div style="right:374.81px;top:247.08px;font-size:9.5px;letter-spacing:0.55px;transform:scale(0.9,1);-webkit-text-stroke:0.12px #000;transform-origin:100% 8px">1.9</div>
<div style="right:327.00px;top:247.08px;font-size:9.5px;letter-spacing:0.55px;transform:scale(0.9,1);-webkit-text-stroke:0.12px #000;transform-origin:100% 8px">6.4</div>
<div style="right:293.21px;top:247.08px;font-size:9.5px;letter-spacing:0.55px;transform:scale(0.9,1);-webkit-text-stroke:0.12px #000;transform-origin:100% 8px">1.4</div>
<div style="right:219.10px;top:247.08px;font-size:9.5px;letter-spacing:0.55px;transform:scale(0.9,1);-webkit-text-stroke:0.12px #000;transform-origin:100% 8px">24.7</div>
<div style="right:188.31px;top:247.08px;font-size:9.5px;letter-spacing:0.55px;transform:scale(0.9,1);-webkit-text-stroke:0.12px #000;transform-origin:100% 8px">2.8</div>
<div style="right:141.10px;top:247.08px;font-size:9.5px;letter-spacing:0.55px;transform:scale(0.9,1);-webkit-text-stroke:0.12px #000;transform-origin:100% 8px">29.2</div>
<div style="right:109.90px;top:247.08px;font-size:9.5px;letter-spacing:0.55px;transform:scale(0.9,1);-webkit-text-stroke:0.12px #000;transform-origin:100% 8px">3.3</div>
<div style="right:62.11px;top:247.08px;font-size:9.5px;letter-spacing:0.55px;transform:scale(0.9,1);-webkit-text-stroke:0.12px #000;transform-origin:100% 8px">26.9</div>
<div style="right:31.11px;top:247.08px;font-size:9.5px;letter-spacing:0.55px;transform:scale(0.9,1);-webkit-text-stroke:0.12px #000;transform-origin:100% 8px">2.4</div>
<div style="left:18.70px;top:257.97px;font-size:9.5px;letter-spacing:0.3px;transform:scale(0.87,1);-webkit-text-stroke:0.2px #000;transform-origin:0 8px">Nebraska</div>
<div style="right:478.61px;top:257.97px;font-size:9.5px;letter-spacing:0.55px;transform:scale(0.9,1);-webkit-text-stroke:0.12px #000;transform-origin:100% 8px">2.3</div>
<div style="right:450.21px;top:257.97px;font-size:9.5px;letter-spacing:0.55px;transform:scale(0.9,1);-webkit-text-stroke:0.12px #000;transform-origin:100% 8px">1.0</div>
<div style="right:402.11px;top:257.97px;font-size:9.5px;letter-spacing:0.55px;transform:scale(0.9,1);-webkit-text-stroke:0.12px #000;transform-origin:100% 8px">5.4</div>
<div style="right:374.81px;top:257.97px;font-size:9.5px;letter-spacing:0.55px;transform:scale(0.9,1);-webkit-text-stroke:0.12px #000;transform-origin:100% 8px">1.5</div>
<div style="right:327.00px;top:257.97px;font-size:9.5px;letter-spacing:0.55px;transform:scale(0.9,1);-webkit-text-stroke:0.12px #000;transform-origin:100% 8px">3.9</div>
<div style="right:293.21px;top:257.97px;font-size:9.5px;letter-spacing:0.55px;transform:scale(0.9,1);-webkit-text-stroke:0.12px #000;transform-origin:100% 8px">1.0</div>
<div style="right:219.10px;top:257.97px;font-size:9.5px;letter-spacing:0.55px;transform:scale(0.9,1);-webkit-text-stroke:0.12px #000;transform-origin:100% 8px">18.6</div>
<div style="right:188.31px;top:257.97px;font-size:9.5px;letter-spacing:0.55px;transform:scale(0.9,1);-webkit-text-stroke:0.12px #000;transform-origin:100% 8px">2.6</div>
<div style="right:141.10px;top:257.97px;font-size:9.5px;letter-spacing:0.55px;transform:scale(0.9,1);-webkit-text-stroke:0.12px #000;transform-origin:100% 8px">27.6</div>
<div style="right:109.90px;top:257.97px;font-size:9.5px;letter-spacing:0.55px;transform:scale(0.9,1);-webkit-text-stroke:0.12px #000;transform-origin:100% 8px">3.7</div>
<div style="right:62.11px;top:257.97px;font-size:9.5px;letter-spacing:0.55px;transform:scale(0.9,1);-webkit-text-stroke:0.12px #000;transform-origin:100% 8px">23.3</div>
<div style="right:31.11px;top:257.97px;font-size:9.5px;letter-spacing:0.55px;transform:scale(0.9,1);-webkit-text-stroke:0.12px #000;transform-origin:100% 8px">2.0</div>
<div style="left:18.70px;top:268.85px;font-size:9.5px;letter-spacing:0.3px;transform:scale(0.87,1);-webkit-text-stroke:0.2px #000;transform-origin:0 8px">Nevada</div>
<div style="right:478.61px;top:268.85px;font-size:9.5px;letter-spacing:0.55px;transform:scale(0.9,1);-webkit-text-stroke:0.12px #000;transform-origin:100% 8px">5.1</div>
<div style="right:450.21px;top:268.85px;font-size:9.5px;letter-spacing:0.55px;transform:scale(0.9,1);-webkit-text-stroke:0.12px #000;transform-origin:100% 8px">1.6</div>
<div style="right:402.11px;top:268.85px;font-size:9.5px;letter-spacing:0.55px;transform:scale(0.9,1);-webkit-text-stroke:0.12px #000;transform-origin:100% 8px">5.5</div>
<div style="right:374.81px;top:268.85px;font-size:9.5px;letter-spacing:0.55px;transform:scale(0.9,1);-webkit-text-stroke:0.12px #000;transform-origin:100% 8px">1.9</div>
<div style="right:327.00px;top:268.85px;font-size:9.5px;letter-spacing:0.55px;transform:scale(0.9,1);-webkit-text-stroke:0.12px #000;transform-origin:100% 8px">5.3</div>
<div style="right:293.21px;top:268.85px;font-size:9.5px;letter-spacing:0.55px;transform:scale(0.9,1);-webkit-text-stroke:0.12px #000;transform-origin:100% 8px">1.4</div>
<div style="right:219.10px;top:268.85px;font-size:9.5px;letter-spacing:0.55px;transform:scale(0.9,1);-webkit-text-stroke:0.12px #000;transform-origin:100% 8px">33.4</div>
<div style="right:188.31px;top:268.85px;font-size:9.5px;letter-spacing:0.55px;transform:scale(0.9,1);-webkit-text-stroke:0.12px #000;transform-origin:100% 8px">3.6</div>
<div style="right:141.10px;top:268.85px;font-size:9.5px;letter-spacing:0.55px;transform:scale(0.9,1);-webkit-text-stroke:0.12px #000;transform-origin:100% 8px">35.5</div>
<div style="right:109.90px;top:268.85px;font-size:9.5px;letter-spacing:0.55px;transform:scale(0.9,1);-webkit-text-stroke:0.12px #000;transform-origin:100% 8px">3.6</div>
<div style="right:62.11px;top:268.85px;font-size:9.5px;letter-spacing:0.55px;transform:scale(0.9,1);-webkit-text-stroke:0.12px #000;transform-origin:100% 8px">34.5</div>
<div style="right:31.11px;top:268.85px;font-size:9.5px;letter-spacing:0.55px;transform:scale(0.9,1);-webkit-text-stroke:0.12px #000;transform-origin:100% 8px">2.5</div>
<div style="left:18.70px;top:279.73px;font-size:9.5px;letter-spacing:0.3px;transform:scale(0.87,1);-webkit-text-stroke:0.2px #000;transform-origin:0 8px">New Hampshire</div>
<div style="right:478.61px;top:279.73px;font-size:9.5px;letter-spacing:0.55px;transform:scale(0.9,1);-webkit-text-stroke:0.12px #000;transform-origin:100% 8px">4.2</div>
<div style="right:450.21px;top:279.73px;font-size:9.5px;letter-spacing:0.55px;transform:scale(0.9,1);-webkit-text-stroke:0.12px #000;transform-origin:100% 8px">1.5</div>
<div style="right:402.11px;top:279.73px;font-size:9.5px;letter-spacing:0.55px;transform:scale(0.9,1);-webkit-text-stroke:0.12px #000;transform-origin:100% 8px">8.6</div>
<div style="right:374.81px;top:279.73px;font-size:9.5px;letter-spacing:0.55px;transform:scale(0.9,1);-webkit-text-stroke:0.12px #000;transform-origin:100% 8px">2.9</div>
<div style="right:327.00px;top:279.73px;font-size:9.5px;letter-spacing:0.55px;transform:scale(0.9,1);-webkit-text-stroke:0.12px #000;transform-origin:100% 8px">6.6</div>
<div style="right:293.21px;top:279.73px;font-size:9.5px;letter-spacing:0.55px;transform:scale(0.9,1);-webkit-text-stroke:0.12px #000;transform-origin:100% 8px">1.7</div>
<div style="right:219.10px;top:279.73px;font-size:9.5px;letter-spacing:0.55px;transform:scale(0.9,1);-webkit-text-stroke:0.12px #000;transform-origin:100% 8px">24.2</div>
<div style="right:188.31px;top:279.73px;font-size:9.5px;letter-spacing:0.55px;transform:scale(0.9,1);-webkit-text-stroke:0.12px #000;transform-origin:100% 8px">4.6</div>
<div style="right:141.10px;top:279.73px;font-size:9.5px;letter-spacing:0.55px;transform:scale(0.9,1);-webkit-text-stroke:0.12px #000;transform-origin:100% 8px">31.7</div>
<div style="right:109.90px;top:279.73px;font-size:9.5px;letter-spacing:0.55px;transform:scale(0.9,1);-webkit-text-stroke:0.12px #000;transform-origin:100% 8px">5.0</div>
<div style="right:62.11px;top:279.73px;font-size:9.5px;letter-spacing:0.55px;transform:scale(0.9,1);-webkit-text-stroke:0.12px #000;transform-origin:100% 8px">28.2</div>
<div style="right:31.11px;top:279.73px;font-size:9.5px;letter-spacing:0.55px;transform:scale(0.9,1);-webkit-text-stroke:0.12px #000;transform-origin:100% 8px">3.6</div>
<div style="left:18.70px;top:290.61px;font-size:9.5px;letter-spacing:0.3px;transform:scale(0.87,1);-webkit-text-stroke:0.2px #000;transform-origin:0 8px">New York</div>
<div style="right:478.61px;top:290.61px;font-size:9.5px;letter-spacing:0.55px;transform:scale(0.9,1);-webkit-text-stroke:0.12px #000;transform-origin:100% 8px">3.0</div>
<div style="right:450.21px;top:290.61px;font-size:9.5px;letter-spacing:0.55px;transform:scale(0.9,1);-webkit-text-stroke:0.12px #000;transform-origin:100% 8px">0.8</div>
<div style="right:402.11px;top:290.61px;font-size:9.5px;letter-spacing:0.55px;transform:scale(0.9,1);-webkit-text-stroke:0.12px #000;transform-origin:100% 8px">6.0</div>
<div style="right:374.81px;top:290.61px;font-size:9.5px;letter-spacing:0.55px;transform:scale(0.9,1);-webkit-text-stroke:0.12px #000;transform-origin:100% 8px">1.1</div>
<div style="right:327.00px;top:290.61px;font-size:9.5px;letter-spacing:0.55px;transform:scale(0.9,1);-webkit-text-stroke:0.12px #000;transform-origin:100% 8px">4.5</div>
<div style="right:293.21px;top:290.61px;font-size:9.5px;letter-spacing:0.55px;transform:scale(0.9,1);-webkit-text-stroke:0.12px #000;transform-origin:100% 8px">0.8</div>
<div style="right:219.10px;top:290.61px;font-size:9.5px;letter-spacing:0.55px;transform:scale(0.9,1);-webkit-text-stroke:0.12px #000;transform-origin:100% 8px">18.4</div>
<div style="right:188.31px;top:290.61px;font-size:9.5px;letter-spacing:0.55px;transform:scale(0.9,1);-webkit-text-stroke:0.12px #000;transform-origin:100% 8px">1.8</div>
<div style="right:141.10px;top:290.61px;font-size:9.5px;letter-spacing:0.55px;transform:scale(0.9,1);-webkit-text-stroke:0.12px #000;transform-origin:100% 8px">27.5</div>
<div style="right:109.90px;top:290.61px;font-size:9.5px;letter-spacing:0.55px;transform:scale(0.9,1);-webkit-text-stroke:0.12px #000;transform-origin:100% 8px">2.5</div>
<div style="right:62.11px;top:290.61px;font-size:9.5px;letter-spacing:0.55px;transform:scale(0.9,1);-webkit-text-stroke:0.12px #000;transform-origin:100% 8px">23.0</div>
<div style="right:31.11px;top:290.61px;font-size:9.5px;letter-spacing:0.55px;transform:scale(0.9,1);-webkit-text-stroke:0.12px #000;transform-origin:100% 8px">1.9</div>
<div style="left:18.70px;top:301.49px;font-size:9.5px;letter-spacing:0.3px;transform:scale(0.87,1);-webkit-text-stroke:0.2px #000;transform-origin:0 8px">North Carolina</div>
<div style="right:478.61px;top:301.49px;font-size:9.5px;letter-spacing:0.55px;transform:scale(0.9,1);-webkit-text-stroke:0.12px #000;transform-origin:100% 8px">2.0</div>
<div style="right:450.21px;top:301.49px;font-size:9.5px;letter-spacing:0.55px;transform:scale(0.9,1);-webkit-text-stroke:0.12px #000;transform-origin:100% 8px">1.1</div>
<div style="right:402.11px;top:301.49px;font-size:9.5px;letter-spacing:0.55px;transform:scale(0.9,1);-webkit-text-stroke:0.12px #000;transform-origin:100% 8px">4.9</div>
<div style="right:374.81px;top:301.49px;font-size:9.5px;letter-spacing:0.55px;transform:scale(0.9,1);-webkit-text-stroke:0.12px #000;transform-origin:100% 8px">2.1</div>
<div style="right:327.00px;top:301.49px;font-size:9.5px;letter-spacing:0.55px;transform:scale(0.9,1);-webkit-text-stroke:0.12px #000;transform-origin:100% 8px">3.5</div>
<div style="right:293.21px;top:301.49px;font-size:9.5px;letter-spacing:0.55px;transform:scale(0.9,1);-webkit-text-stroke:0.12px #000;transform-origin:100% 8px">1.4</div>
<div style="right:219.10px;top:301.49px;font-size:9.5px;letter-spacing:0.55px;transform:scale(0.9,1);-webkit-text-stroke:0.12px #000;transform-origin:100% 8px">29.6</div>
<div style="right:188.31px;top:301.49px;font-size:9.5px;letter-spacing:0.55px;transform:scale(0.9,1);-webkit-text-stroke:0.12px #000;transform-origin:100% 8px">3.3</div>
<div style="right:141.10px;top:301.49px;font-size:9.5px;letter-spacing:0.55px;transform:scale(0.9,1);-webkit-text-stroke:0.12px #000;transform-origin:100% 8px">34.2</div>
<div style="right:109.90px;top:301.49px;font-size:9.5px;letter-spacing:0.55px;transform:scale(0.9,1);-webkit-text-stroke:0.12px #000;transform-origin:100% 8px">4.5</div>
<div style="right:62.11px;top:301.49px;font-size:9.5px;letter-spacing:0.55px;transform:scale(0.9,1);-webkit-text-stroke:0.12px #000;transform-origin:100% 8px">31.9</div>
<div style="right:31.11px;top:301.49px;font-size:9.5px;letter-spacing:0.55px;transform:scale(0.9,1);-webkit-text-stroke:0.12px #000;transform-origin:100% 8px">3.4</div>
<div style="left:18.70px;top:312.37px;font-size:9.5px;letter-spacing:0.3px;transform:scale(0.87,1);-webkit-text-stroke:0.2px #000;transform-origin:0 8px">North Dakota</div>
<div style="right:478.61px;top:312.37px;font-size:9.5px;letter-spacing:0.55px;transform:scale(0.9,1);-webkit-text-stroke:0.12px #000;transform-origin:100% 8px">4.4</div>
<div style="right:450.21px;top:312.37px;font-size:9.5px;letter-spacing:0.55px;transform:scale(0.9,1);-webkit-text-stroke:0.12px #000;transform-origin:100% 8px">1.6</div>
<div style="right:402.11px;top:312.37px;font-size:9.5px;letter-spacing:0.55px;transform:scale(0.9,1);-webkit-text-stroke:0.12px #000;transform-origin:100% 8px">7.9</div>
<div style="right:374.81px;top:312.37px;font-size:9.5px;letter-spacing:0.55px;transform:scale(0.9,1);-webkit-text-stroke:0.12px #000;transform-origin:100% 8px">2.9</div>
<div style="right:327.00px;top:312.37px;font-size:9.5px;letter-spacing:0.55px;transform:scale(0.9,1);-webkit-text-stroke:0.12px #000;transform-origin:100% 8px">6.3</div>
<div style="right:293.21px;top:312.37px;font-size:9.5px;letter-spacing:0.55px;transform:scale(0.9,1);-webkit-text-stroke:0.12px #000;transform-origin:100% 8px">1.9</div>
<div style="right:219.10px;top:312.37px;font-size:9.5px;letter-spacing:0.55px;transform:scale(0.9,1);-webkit-text-stroke:0.12px #000;transform-origin:100% 8px">16.8</div>
<div style="right:188.31px;top:312.37px;font-size:9.5px;letter-spacing:0.55px;transform:scale(0.9,1);-webkit-text-stroke:0.12px #000;transform-origin:100% 8px">2.9</div>
<div style="right:141.10px;top:312.37px;font-size:9.5px;letter-spacing:0.55px;transform:scale(0.9,1);-webkit-text-stroke:0.12px #000;transform-origin:100% 8px">25.5</div>
<div style="right:109.90px;top:312.37px;font-size:9.5px;letter-spacing:0.55px;transform:scale(0.9,1);-webkit-text-stroke:0.12px #000;transform-origin:100% 8px">4.2</div>
<div style="right:62.11px;top:312.37px;font-size:9.5px;letter-spacing:0.55px;transform:scale(0.9,1);-webkit-text-stroke:0.12px #000;transform-origin:100% 8px">21.3</div>
<div style="right:31.11px;top:312.37px;font-size:9.5px;letter-spacing:0.55px;transform:scale(0.9,1);-webkit-text-stroke:0.12px #000;transform-origin:100% 8px">2.1</div>
<div style="left:18.70px;top:323.25px;font-size:9.5px;letter-spacing:0.3px;transform:scale(0.87,1);-webkit-text-stroke:0.2px #000;transform-origin:0 8px">Ohio</div>
<div style="right:478.61px;top:323.25px;font-size:9.5px;letter-spacing:0.55px;transform:scale(0.9,1);-webkit-text-stroke:0.12px #000;transform-origin:100% 8px">3.4</div>
<div style="right:450.21px;top:323.25px;font-size:9.5px;letter-spacing:0.55px;transform:scale(0.9,1);-webkit-text-stroke:0.12px #000;transform-origin:100% 8px">2.1</div>
<div style="right:402.11px;top:323.25px;font-size:9.5px;letter-spacing:0.55px;transform:scale(0.9,1);-webkit-text-stroke:0.12px #000;transform-origin:100% 8px">5.0</div>
<div style="right:374.81px;top:323.25px;font-size:9.5px;letter-spacing:0.55px;transform:scale(0.9,1);-webkit-text-stroke:0.12px #000;transform-origin:100% 8px">2.4</div>
<div style="right:327.00px;top:323.25px;font-size:9.5px;letter-spacing:0.55px;transform:scale(0.9,1);-webkit-text-stroke:0.12px #000;transform-origin:100% 8px">4.2</div>
<div style="right:293.21px;top:323.25px;font-size:9.5px;letter-spacing:0.55px;transform:scale(0.9,1);-webkit-text-stroke:0.12px #000;transform-origin:100% 8px">1.9</div>
<div style="right:219.10px;top:323.25px;font-size:9.5px;letter-spacing:0.55px;transform:scale(0.9,1);-webkit-text-stroke:0.12px #000;transform-origin:100% 8px">26.2</div>
<div style="right:188.31px;top:323.25px;font-size:9.5px;letter-spacing:0.55px;transform:scale(0.9,1);-webkit-text-stroke:0.12px #000;transform-origin:100% 8px">4.6</div>
<div style="right:141.10px;top:323.25px;font-size:9.5px;letter-spacing:0.55px;transform:scale(0.9,1);-webkit-text-stroke:0.12px #000;transform-origin:100% 8px">35.7</div>
<div style="right:109.90px;top:323.25px;font-size:9.5px;letter-spacing:0.55px;transform:scale(0.9,1);-webkit-text-stroke:0.12px #000;transform-origin:100% 8px">4.4</div>
<div style="right:62.11px;top:323.25px;font-size:9.5px;letter-spacing:0.55px;transform:scale(0.9,1);-webkit-text-stroke:0.12px #000;transform-origin:100% 8px">31.1</div>
<div style="right:31.11px;top:323.25px;font-size:9.5px;letter-spacing:0.55px;transform:scale(0.9,1);-webkit-text-stroke:0.12px #000;transform-origin:100% 8px">3.3</div>
<div style="left:18.70px;top:334.13px;font-size:9.5px;letter-spacing:0.3px;transform:scale(0.87,1);-webkit-text-stroke:0.2px #000;transform-origin:0 8px">Oklahoma</div>
<div style="right:478.61px;top:334.13px;font-size:9.5px;letter-spacing:0.55px;transform:scale(0.9,1);-webkit-text-stroke:0.12px #000;transform-origin:100% 8px">3.1</div>
<div style="right:450.21px;top:334.13px;font-size:9.5px;letter-spacing:0.55px;transform:scale(0.9,1);-webkit-text-stroke:0.12px #000;transform-origin:100% 8px">1.6</div>
<div style="right:402.11px;top:334.13px;font-size:9.5px;letter-spacing:0.55px;transform:scale(0.9,1);-webkit-text-stroke:0.12px #000;transform-origin:100% 8px">5.6</div>
<div style="right:374.81px;top:334.13px;font-size:9.5px;letter-spacing:0.55px;transform:scale(0.9,1);-webkit-text-stroke:0.12px #000;transform-origin:100% 8px">2.1</div>
<div style="right:327.00px;top:334.13px;font-size:9.5px;letter-spacing:0.55px;transform:scale(0.9,1);-webkit-text-stroke:0.12px #000;transform-origin:100% 8px">4.3</div>
<div style="right:293.21px;top:334.13px;font-size:9.5px;letter-spacing:0.55px;transform:scale(0.9,1);-webkit-text-stroke:0.12px #000;transform-origin:100% 8px">1.4</div>
<div style="right:219.10px;top:334.13px;font-size:9.5px;letter-spacing:0.55px;transform:scale(0.9,1);-webkit-text-stroke:0.12px #000;transform-origin:100% 8px">19.1</div>
<div style="right:188.31px;top:334.13px;font-size:9.5px;letter-spacing:0.55px;transform:scale(0.9,1);-webkit-text-stroke:0.12px #000;transform-origin:100% 8px">3.5</div>
<div style="right:141.10px;top:334.13px;font-size:9.5px;letter-spacing:0.55px;transform:scale(0.9,1);-webkit-text-stroke:0.12px #000;transform-origin:100% 8px">25.2</div>
<div style="right:109.90px;top:334.13px;font-size:9.5px;letter-spacing:0.55px;transform:scale(0.9,1);-webkit-text-stroke:0.12px #000;transform-origin:100% 8px">2.9</div>
<div style="right:62.11px;top:334.13px;font-size:9.5px;letter-spacing:0.55px;transform:scale(0.9,1);-webkit-text-stroke:0.12px #000;transform-origin:100% 8px">22.2</div>
<div style="right:31.11px;top:334.13px;font-size:9.5px;letter-spacing:0.55px;transform:scale(0.9,1);-webkit-text-stroke:0.12px #000;transform-origin:100% 8px">2.5</div>
<div style="left:18.70px;top:345.01px;font-size:9.5px;letter-spacing:0.3px;transform:scale(0.87,1);-webkit-text-stroke:0.2px #000;transform-origin:0 8px">Rhode Island</div>
<div style="right:478.61px;top:345.01px;font-size:9.5px;letter-spacing:0.55px;transform:scale(0.9,1);-webkit-text-stroke:0.12px #000;transform-origin:100% 8px">4.5</div>
<div style="right:450.21px;top:345.01px;font-size:9.5px;letter-spacing:0.55px;transform:scale(0.9,1);-webkit-text-stroke:0.12px #000;transform-origin:100% 8px">1.4</div>
<div style="right:402.11px;top:345.01px;font-size:9.5px;letter-spacing:0.55px;transform:scale(0.9,1);-webkit-text-stroke:0.12px #000;transform-origin:100% 8px">10.3</div>
<div style="right:374.81px;top:345.01px;font-size:9.5px;letter-spacing:0.55px;transform:scale(0.9,1);-webkit-text-stroke:0.12px #000;transform-origin:100% 8px">2.3</div>
<div style="right:327.00px;top:345.01px;font-size:9.5px;letter-spacing:0.55px;transform:scale(0.9,1);-webkit-text-stroke:0.12px #000;transform-origin:100% 8px">7.4</div>
<div style="right:293.21px;top:345.01px;font-size:9.5px;letter-spacing:0.55px;transform:scale(0.9,1);-webkit-text-stroke:0.12px #000;transform-origin:100% 8px">1.4</div>
<div style="right:219.10px;top:345.01px;font-size:9.5px;letter-spacing:0.55px;transform:scale(0.9,1);-webkit-text-stroke:0.12px #000;transform-origin:100% 8px">23.6</div>
<div style="right:188.31px;top:345.01px;font-size:9.5px;letter-spacing:0.55px;transform:scale(0.9,1);-webkit-text-stroke:0.12px #000;transform-origin:100% 8px">2.1</div>
<div style="right:141.10px;top:345.01px;font-size:9.5px;letter-spacing:0.55px;transform:scale(0.9,1);-webkit-text-stroke:0.12px #000;transform-origin:100% 8px">28.3</div>
<div style="right:109.90px;top:345.01px;font-size:9.5px;letter-spacing:0.55px;transform:scale(0.9,1);-webkit-text-stroke:0.12px #000;transform-origin:100% 8px">4.0</div>
<div style="right:62.11px;top:345.01px;font-size:9.5px;letter-spacing:0.55px;transform:scale(0.9,1);-webkit-text-stroke:0.12px #000;transform-origin:100% 8px">26.0</div>
<div style="right:31.11px;top:345.01px;font-size:9.5px;letter-spacing:0.55px;transform:scale(0.9,1);-webkit-text-stroke:0.12px #000;transform-origin:100% 8px">2.4</div>
<div style="left:18.70px;top:355.89px;font-size:9.5px;letter-spacing:0.3px;transform:scale(0.87,1);-webkit-text-stroke:0.2px #000;transform-origin:0 8px">South Dakota</div>
<div style="right:478.61px;top:355.89px;font-size:9.5px;letter-spacing:0.55px;transform:scale(0.9,1);-webkit-text-stroke:0.12px #000;transform-origin:100% 8px">3.4</div>
<div style="right:450.21px;top:355.89px;font-size:9.5px;letter-spacing:0.55px;transform:scale(0.9,1);-webkit-text-stroke:0.12px #000;transform-origin:100% 8px">2.6</div>
<div style="right:402.11px;top:355.89px;font-size:9.5px;letter-spacing:0.55px;transform:scale(0.9,1);-webkit-text-stroke:0.12px #000;transform-origin:100% 8px">5.6</div>
<div style="right:374.81px;top:355.89px;font-size:9.5px;letter-spacing:0.55px;transform:scale(0.9,1);-webkit-text-stroke:0.12px #000;transform-origin:100% 8px">3.8</div>
<div style="right:327.00px;top:355.89px;font-size:9.5px;letter-spacing:0.55px;transform:scale(0.9,1);-webkit-text-stroke:0.12px #000;transform-origin:100% 8px">4.5</div>
<div style="right:293.21px;top:355.89px;font-size:9.5px;letter-spacing:0.55px;transform:scale(0.9,1);-webkit-text-stroke:0.12px #000;transform-origin:100% 8px">2.9</div>
<div style="right:219.10px;top:355.89px;font-size:9.5px;letter-spacing:0.55px;transform:scale(0.9,1);-webkit-text-stroke:0.12px #000;transform-origin:100% 8px">18.1</div>
<div style="right:188.31px;top:355.89px;font-size:9.5px;letter-spacing:0.55px;transform:scale(0.9,1);-webkit-text-stroke:0.12px #000;transform-origin:100% 8px">2.5</div>
<div style="right:141.10px;top:355.89px;font-size:9.5px;letter-spacing:0.55px;transform:scale(0.9,1);-webkit-text-stroke:0.12px #000;transform-origin:100% 8px">25.9</div>
<div style="right:109.90px;top:355.89px;font-size:9.5px;letter-spacing:0.55px;transform:scale(0.9,1);-webkit-text-stroke:0.12px #000;transform-origin:100% 8px">4.0</div>
<div style="right:62.11px;top:355.89px;font-size:9.5px;letter-spacing:0.55px;transform:scale(0.9,1);-webkit-text-stroke:0.12px #000;transform-origin:100% 8px">22.1</div>
<div style="right:31.11px;top:355.89px;font-size:9.5px;letter-spacing:0.55px;transform:scale(0.9,1);-webkit-text-stroke:0.12px #000;transform-origin:100% 8px">2.5</div>
<div style="left:18.70px;top:366.77px;font-size:9.5px;letter-spacing:0.3px;transform:scale(0.87,1);-webkit-text-stroke:0.2px #000;transform-origin:0 8px">Tennessee</div>
<div style="right:478.61px;top:366.77px;font-size:9.5px;letter-spacing:0.55px;transform:scale(0.9,1);-webkit-text-stroke:0.12px #000;transform-origin:100% 8px">1.9</div>
<div style="right:450.21px;top:366.77px;font-size:9.5px;letter-spacing:0.55px;transform:scale(0.9,1);-webkit-text-stroke:0.12px #000;transform-origin:100% 8px">1.0</div>
<div style="right:402.11px;top:366.77px;font-size:9.5px;letter-spacing:0.55px;transform:scale(0.9,1);-webkit-text-stroke:0.12px #000;transform-origin:100% 8px">6.3</div>
<div style="right:374.81px;top:366.77px;font-size:9.5px;letter-spacing:0.55px;transform:scale(0.9,1);-webkit-text-stroke:0.12px #000;transform-origin:100% 8px">2.7</div>
<div style="right:327.00px;top:366.77px;font-size:9.5px;letter-spacing:0.55px;transform:scale(0.9,1);-webkit-text-stroke:0.12px #000;transform-origin:100% 8px">4.1</div>
<div style="right:293.21px;top:366.77px;font-size:9.5px;letter-spacing:0.55px;transform:scale(0.9,1);-webkit-text-stroke:0.12px #000;transform-origin:100% 8px">1.7</div>
<div style="right:219.10px;top:366.77px;font-size:9.5px;letter-spacing:0.55px;transform:scale(0.9,1);-webkit-text-stroke:0.12px #000;transform-origin:100% 8px">19.5</div>
<div style="right:188.31px;top:366.77px;font-size:9.5px;letter-spacing:0.55px;transform:scale(0.9,1);-webkit-text-stroke:0.12px #000;transform-origin:100% 8px">3.7</div>
<div style="right:141.10px;top:366.77px;font-size:9.5px;letter-spacing:0.55px;transform:scale(0.9,1);-webkit-text-stroke:0.12px #000;transform-origin:100% 8px">29.2</div>
<div style="right:109.90px;top:366.77px;font-size:9.5px;letter-spacing:0.55px;transform:scale(0.9,1);-webkit-text-stroke:0.12px #000;transform-origin:100% 8px">5.7</div>
<div style="right:62.11px;top:366.77px;font-size:9.5px;letter-spacing:0.55px;transform:scale(0.9,1);-webkit-text-stroke:0.12px #000;transform-origin:100% 8px">24.3</div>
<div style="right:31.11px;top:366.77px;font-size:9.5px;letter-spacing:0.55px;transform:scale(0.9,1);-webkit-text-stroke:0.12px #000;transform-origin:100% 8px">4.4</div>
<div style="left:18.70px;top:377.66px;font-size:9.5px;letter-spacing:0.3px;transform:scale(0.87,1);-webkit-text-stroke:0.2px #000;transform-origin:0 8px">Texas<sup>¶</sup></div>
<div style="right:478.61px;top:377.66px;font-size:9.5px;letter-spacing:0.55px;transform:scale(0.9,1);-webkit-text-stroke:0.12px #000;transform-origin:100% 8px">2.7</div>
<div style="right:450.21px;top:377.66px;font-size:9.5px;letter-spacing:0.55px;transform:scale(0.9,1);-webkit-text-stroke:0.12px #000;transform-origin:100% 8px">1.2</div>
<div style="right:402.11px;top:377.66px;font-size:9.5px;letter-spacing:0.55px;transform:scale(0.9,1);-webkit-text-stroke:0.12px #000;transform-origin:100% 8px">6.8</div>
<div style="right:374.81px;top:377.66px;font-size:9.5px;letter-spacing:0.55px;transform:scale(0.9,1);-webkit-text-stroke:0.12px #000;transform-origin:100% 8px">1.3</div>
<div style="right:327.00px;top:377.66px;font-size:9.5px;letter-spacing:0.55px;transform:scale(0.9,1);-webkit-text-stroke:0.12px #000;transform-origin:100% 8px">4.8</div>
<div style="right:293.21px;top:377.66px;font-size:9.5px;letter-spacing:0.55px;transform:scale(0.9,1);-webkit-text-stroke:0.12px #000;transform-origin:100% 8px">0.8</div>
<div style="right:219.10px;top:377.66px;font-size:9.5px;letter-spacing:0.55px;transform:scale(0.9,1);-webkit-text-stroke:0.12px #000;transform-origin:100% 8px">26.5</div>
<div style="right:188.31px;top:377.66px;font-size:9.5px;letter-spacing:0.55px;transform:scale(0.9,1);-webkit-text-stroke:0.12px #000;transform-origin:100% 8px">3.0</div>
<div style="right:141.10px;top:377.66px;font-size:9.5px;letter-spacing:0.55px;transform:scale(0.9,1);-webkit-text-stroke:0.12px #000;transform-origin:100% 8px">28.1</div>
<div style="right:109.90px;top:377.66px;font-size:9.5px;letter-spacing:0.55px;transform:scale(0.9,1);-webkit-text-stroke:0.12px #000;transform-origin:100% 8px">2.7</div>
<div style="right:62.11px;top:377.66px;font-size:9.5px;letter-spacing:0.55px;transform:scale(0.9,1);-webkit-text-stroke:0.12px #000;transform-origin:100% 8px">27.3</div>
<div style="right:31.11px;top:377.66px;font-size:9.5px;letter-spacing:0.55px;transform:scale(0.9,1);-webkit-text-stroke:0.12px #000;transform-origin:100% 8px">2.5</div>
<div style="left:18.70px;top:388.54px;font-size:9.5px;letter-spacing:0.3px;transform:scale(0.87,1);-webkit-text-stroke:0.2px #000;transform-origin:0 8px">Utah</div>
<div style="right:478.61px;top:388.54px;font-size:9.5px;letter-spacing:0.55px;transform:scale(0.9,1);-webkit-text-stroke:0.12px #000;transform-origin:100% 8px">1.3</div>
<div style="right:450.21px;top:388.54px;font-size:9.5px;letter-spacing:0.55px;transform:scale(0.9,1);-webkit-text-stroke:0.12px #000;transform-origin:100% 8px">1.3</div>
<div style="right:402.11px;top:388.54px;font-size:9.5px;letter-spacing:0.55px;transform:scale(0.9,1);-webkit-text-stroke:0.12px #000;transform-origin:100% 8px">5.9</div>
<div style="right:374.81px;top:388.54px;font-size:9.5px;letter-spacing:0.55px;transform:scale(0.9,1);-webkit-text-stroke:0.12px #000;transform-origin:100% 8px">2.0</div>
<div style="right:327.00px;top:388.54px;font-size:9.5px;letter-spacing:0.55px;transform:scale(0.9,1);-webkit-text-stroke:0.12px #000;transform-origin:100% 8px">3.7</div>
<div style="right:293.21px;top:388.54px;font-size:9.5px;letter-spacing:0.55px;transform:scale(0.9,1);-webkit-text-stroke:0.12px #000;transform-origin:100% 8px">1.1</div>
<div style="right:219.10px;top:388.54px;font-size:9.5px;letter-spacing:0.55px;transform:scale(0.9,1);-webkit-text-stroke:0.12px #000;transform-origin:100% 8px">19.8</div>
<div style="right:188.31px;top:388.54px;font-size:9.5px;letter-spacing:0.55px;transform:scale(0.9,1);-webkit-text-stroke:0.12px #000;transform-origin:100% 8px">4.2</div>
<div style="right:141.10px;top:388.54px;font-size:9.5px;letter-spacing:0.55px;transform:scale(0.9,1);-webkit-text-stroke:0.12px #000;transform-origin:100% 8px">29.5</div>
<div style="right:109.90px;top:388.54px;font-size:9.5px;letter-spacing:0.55px;transform:scale(0.9,1);-webkit-text-stroke:0.12px #000;transform-origin:100% 8px">6.0</div>
<div style="right:62.11px;top:388.54px;font-size:9.5px;letter-spacing:0.55px;transform:scale(0.9,1);-webkit-text-stroke:0.12px #000;transform-origin:100% 8px">24.7</div>
<div style="right:31.11px;top:388.54px;font-size:9.5px;letter-spacing:0.55px;transform:scale(0.9,1);-webkit-text-stroke:0.12px #000;transform-origin:100% 8px">4.0</div>
<div style="left:18.70px;top:399.42px;font-size:9.5px;letter-spacing:0.3px;transform:scale(0.87,1);-webkit-text-stroke:0.2px #000;transform-origin:0 8px">Vermont</div>
<div style="right:478.61px;top:399.42px;font-size:9.5px;letter-spacing:0.55px;transform:scale(0.9,1);-webkit-text-stroke:0.12px #000;transform-origin:100% 8px">5.7</div>
<div style="right:450.21px;top:399.42px;font-size:9.5px;letter-spacing:0.55px;transform:scale(0.9,1);-webkit-text-stroke:0.12px #000;transform-origin:100% 8px">0.9</div>
<div style="right:402.11px;top:399.42px;font-size:9.5px;letter-spacing:0.55px;transform:scale(0.9,1);-webkit-text-stroke:0.12px #000;transform-origin:100% 8px">10.0</div>
<div style="right:374.81px;top:399.42px;font-size:9.5px;letter-spacing:0.55px;transform:scale(0.9,1);-webkit-text-stroke:0.12px #000;transform-origin:100% 8px">1.5</div>
<div style="right:327.00px;top:399.42px;font-size:9.5px;letter-spacing:0.55px;transform:scale(0.9,1);-webkit-text-stroke:0.12px #000;transform-origin:100% 8px">8.0</div>
<div style="right:293.21px;top:399.42px;font-size:9.5px;letter-spacing:0.55px;transform:scale(0.9,1);-webkit-text-stroke:0.12px #000;transform-origin:100% 8px">0.9</div>
<div style="right:219.10px;top:399.42px;font-size:9.5px;letter-spacing:0.55px;transform:scale(0.9,1);-webkit-text-stroke:0.12px #000;transform-origin:100% 8px">24.8</div>
<div style="right:188.31px;top:399.42px;font-size:9.5px;letter-spacing:0.55px;transform:scale(0.9,1);-webkit-text-stroke:0.12px #000;transform-origin:100% 8px">2.9</div>
<div style="right:141.10px;top:399.42px;font-size:9.5px;letter-spacing:0.55px;transform:scale(0.9,1);-webkit-text-stroke:0.12px #000;transform-origin:100% 8px">33.5</div>
<div style="right:109.90px;top:399.42px;font-size:9.5px;letter-spacing:0.55px;transform:scale(0.9,1);-webkit-text-stroke:0.12px #000;transform-origin:100% 8px">4.1</div>
<div style="right:62.11px;top:399.42px;font-size:9.5px;letter-spacing:0.55px;transform:scale(0.9,1);-webkit-text-stroke:0.12px #000;transform-origin:100% 8px">29.4</div>
<div style="right:31.11px;top:399.42px;font-size:9.5px;letter-spacing:0.55px;transform:scale(0.9,1);-webkit-text-stroke:0.12px #000;transform-origin:100% 8px">3.3</div>
<div style="left:18.70px;top:410.30px;font-size:9.5px;letter-spacing:0.3px;transform:scale(0.87,1);-webkit-text-stroke:0.2px #000;transform-origin:0 8px">West Virginia</div>
<div style="right:478.61px;top:410.30px;font-size:9.5px;letter-spacing:0.55px;transform:scale(0.9,1);-webkit-text-stroke:0.12px #000;transform-origin:100% 8px">2.3</div>
<div style="right:450.21px;top:410.30px;font-size:9.5px;letter-spacing:0.55px;transform:scale(0.9,1);-webkit-text-stroke:0.12px #000;transform-origin:100% 8px">1.1</div>
<div style="right:402.11px;top:410.30px;font-size:9.5px;letter-spacing:0.55px;transform:scale(0.9,1);-webkit-text-stroke:0.12px #000;transform-origin:100% 8px">6.6</div>
<div style="right:374.81px;top:410.30px;font-size:9.5px;letter-spacing:0.55px;transform:scale(0.9,1);-webkit-text-stroke:0.12px #000;transform-origin:100% 8px">2.6</div>
<div style="right:327.00px;top:410.30px;font-size:9.5px;letter-spacing:0.55px;transform:scale(0.9,1);-webkit-text-stroke:0.12px #000;transform-origin:100% 8px">4.5</div>
<div style="right:293.21px;top:410.30px;font-size:9.5px;letter-spacing:0.55px;transform:scale(0.9,1);-webkit-text-stroke:0.12px #000;transform-origin:100% 8px">1.4</div>
<div style="right:219.10px;top:410.30px;font-size:9.5px;letter-spacing:0.55px;transform:scale(0.9,1);-webkit-text-stroke:0.12px #000;transform-origin:100% 8px">25.2</div>
<div style="right:188.31px;top:410.30px;font-size:9.5px;letter-spacing:0.55px;transform:scale(0.9,1);-webkit-text-stroke:0.12px #000;transform-origin:100% 8px">5.8</div>
<div style="right:141.10px;top:410.30px;font-size:9.5px;letter-spacing:0.55px;transform:scale(0.9,1);-webkit-text-stroke:0.12px #000;transform-origin:100% 8px">27.7</div>
<div style="right:109.90px;top:410.30px;font-size:9.5px;letter-spacing:0.55px;transform:scale(0.9,1);-webkit-text-stroke:0.12px #000;transform-origin:100% 8px">4.2</div>
<div style="right:62.11px;top:410.30px;font-size:9.5px;letter-spacing:0.55px;transform:scale(0.9,1);-webkit-text-stroke:0.12px #000;transform-origin:100% 8px">26.5</div>
<div style="right:31.11px;top:410.30px;font-size:9.5px;letter-spacing:0.55px;transform:scale(0.9,1);-webkit-text-stroke:0.12px #000;transform-origin:100% 8px">4.0</div>
<div style="left:18.70px;top:421.18px;font-size:9.5px;letter-spacing:0.3px;transform:scale(0.87,1);-webkit-text-stroke:0.2px #000;transform-origin:0 8px">Wisconsin</div>
<div style="right:478.61px;top:421.18px;font-size:9.5px;letter-spacing:0.55px;transform:scale(0.9,1);-webkit-text-stroke:0.12px #000;transform-origin:100% 8px">—<span class="ov">**</span></div>
<div style="right:450.21px;top:421.18px;font-size:9.5px;letter-spacing:0.55px;transform:scale(0.9,1);-webkit-text-stroke:0.12px #000;transform-origin:100% 8px">—</div>
<div style="right:402.11px;top:421.18px;font-size:9.5px;letter-spacing:0.55px;transform:scale(0.9,1);-webkit-text-stroke:0.12px #000;transform-origin:100% 8px">—</div>
<div style="right:374.81px;top:421.18px;font-size:9.5px;letter-spacing:0.55px;transform:scale(0.9,1);-webkit-text-stroke:0.12px #000;transform-origin:100% 8px">—</div>
<div style="right:327.00px;top:421.18px;font-size:9.5px;letter-spacing:0.55px;transform:scale(0.9,1);-webkit-text-stroke:0.12px #000;transform-origin:100% 8px">—</div>
<div style="right:293.21px;top:421.18px;font-size:9.5px;letter-spacing:0.55px;transform:scale(0.9,1);-webkit-text-stroke:0.12px #000;transform-origin:100% 8px">—</div>
<div style="right:219.10px;top:421.18px;font-size:9.5px;letter-spacing:0.55px;transform:scale(0.9,1);-webkit-text-stroke:0.12px #000;transform-origin:100% 8px">23.9</div>
<div style="right:188.31px;top:421.18px;font-size:9.5px;letter-spacing:0.55px;transform:scale(0.9,1);-webkit-text-stroke:0.12px #000;transform-origin:100% 8px">2.8</div>
<div style="right:141.10px;top:421.18px;font-size:9.5px;letter-spacing:0.55px;transform:scale(0.9,1);-webkit-text-stroke:0.12px #000;transform-origin:100% 8px">28.4</div>
<div style="right:109.90px;top:421.18px;font-size:9.5px;letter-spacing:0.55px;transform:scale(0.9,1);-webkit-text-stroke:0.12px #000;transform-origin:100% 8px">3.3</div>
<div style="right:62.11px;top:421.18px;font-size:9.5px;letter-spacing:0.55px;transform:scale(0.9,1);-webkit-text-stroke:0.12px #000;transform-origin:100% 8px">26.3</div>
<div style="right:31.11px;top:421.18px;font-size:9.5px;letter-spacing:0.55px;transform:scale(0.9,1);-webkit-text-stroke:0.12px #000;transform-origin:100% 8px">2.3</div>
<div style="left:18.70px;top:432.06px;font-size:9.5px;letter-spacing:0.3px;transform:scale(0.87,1);-webkit-text-stroke:0.2px #000;transform-origin:0 8px">Wyoming</div>
<div style="right:478.61px;top:432.06px;font-size:9.5px;letter-spacing:0.55px;transform:scale(0.9,1);-webkit-text-stroke:0.12px #000;transform-origin:100% 8px">3.8</div>
<div style="right:450.21px;top:432.06px;font-size:9.5px;letter-spacing:0.55px;transform:scale(0.9,1);-webkit-text-stroke:0.12px #000;transform-origin:100% 8px">1.7</div>
<div style="right:402.11px;top:432.06px;font-size:9.5px;letter-spacing:0.55px;transform:scale(0.9,1);-webkit-text-stroke:0.12px #000;transform-origin:100% 8px">6.4</div>
<div style="right:374.81px;top:432.06px;font-size:9.5px;letter-spacing:0.55px;transform:scale(0.9,1);-webkit-text-stroke:0.12px #000;transform-origin:100% 8px">1.8</div>
<div style="right:327.00px;top:432.06px;font-size:9.5px;letter-spacing:0.55px;transform:scale(0.9,1);-webkit-text-stroke:0.12px #000;transform-origin:100% 8px">5.1</div>
<div style="right:293.21px;top:432.06px;font-size:9.5px;letter-spacing:0.55px;transform:scale(0.9,1);-webkit-text-stroke:0.12px #000;transform-origin:100% 8px">1.3</div>
<div style="right:219.10px;top:432.06px;font-size:9.5px;letter-spacing:0.55px;transform:scale(0.9,1);-webkit-text-stroke:0.12px #000;transform-origin:100% 8px">16.0</div>
<div style="right:188.31px;top:432.06px;font-size:9.5px;letter-spacing:0.55px;transform:scale(0.9,1);-webkit-text-stroke:0.12px #000;transform-origin:100% 8px">3.0</div>
<div style="right:141.10px;top:432.06px;font-size:9.5px;letter-spacing:0.55px;transform:scale(0.9,1);-webkit-text-stroke:0.12px #000;transform-origin:100% 8px">20.1</div>
<div style="right:109.90px;top:432.06px;font-size:9.5px;letter-spacing:0.55px;transform:scale(0.9,1);-webkit-text-stroke:0.12px #000;transform-origin:100% 8px">3.1</div>
<div style="right:62.11px;top:432.06px;font-size:9.5px;letter-spacing:0.55px;transform:scale(0.9,1);-webkit-text-stroke:0.12px #000;transform-origin:100% 8px">18.1</div>
<div style="right:31.11px;top:432.06px;font-size:9.5px;letter-spacing:0.55px;transform:scale(0.9,1);-webkit-text-stroke:0.12px #000;transform-origin:100% 8px">2.0</div>
<div style="left:11.00px;top:445.10px;font-size:9.5px;letter-spacing:0.3px;transform:scale(0.87,1);-webkit-text-stroke:0.2px #000;transform-origin:0 8px">Median</div>
<div style="left:11.00px;top:456.15px;font-size:9.5px;letter-spacing:0.3px;transform:scale(0.87,1);-webkit-text-stroke:0.2px #000;transform-origin:0 8px">Range</div>
<div style="right:478.61px;top:445.10px;font-size:9.5px;letter-spacing:0.55px;transform:scale(0.9,1);-webkit-text-stroke:0.12px #000;transform-origin:100% 8px">3.1</div>
<div style="right:402.11px;top:445.10px;font-size:9.5px;letter-spacing:0.55px;transform:scale(0.9,1);-webkit-text-stroke:0.12px #000;transform-origin:100% 8px">6.4</div>
<div style="right:327.00px;top:445.10px;font-size:9.5px;letter-spacing:0.55px;transform:scale(0.9,1);-webkit-text-stroke:0.12px #000;transform-origin:100% 8px">4.5</div>
<div style="right:219.10px;top:445.10px;font-size:9.5px;letter-spacing:0.55px;transform:scale(0.9,1);-webkit-text-stroke:0.12px #000;transform-origin:100% 8px">23.9</div>
<div style="right:141.10px;top:445.10px;font-size:9.5px;letter-spacing:0.55px;transform:scale(0.9,1);-webkit-text-stroke:0.12px #000;transform-origin:100% 8px">29.3</div>
<div style="right:62.11px;top:445.10px;font-size:9.5px;letter-spacing:0.55px;transform:scale(0.9,1);-webkit-text-stroke:0.12px #000;transform-origin:100% 8px">26.7</div>
<div class="c" style="left:156.89px;top:456.15px;font-size:9.5px;letter-spacing:0.2px;transform:scale(0.9,1);-webkit-text-stroke:0.1px #000;transform-origin:50% 8px">1.3–5.7</div>
<div class="c" style="left:232.29px;top:456.15px;font-size:9.5px;letter-spacing:0.2px;transform:scale(0.9,1);-webkit-text-stroke:0.1px #000;transform-origin:50% 8px">3.5–10.3</div>
<div class="c" style="left:308.09px;top:456.15px;font-size:9.5px;letter-spacing:0.2px;transform:scale(0.9,1);-webkit-text-stroke:0.1px #000;transform-origin:50% 8px">2.6–8.0</div>
<div class="c" style="left:414.49px;top:456.15px;font-size:9.5px;letter-spacing:0.2px;transform:scale(0.9,1);-webkit-text-stroke:0.1px #000;transform-origin:50% 8px">16.0–33.4</div>
<div class="c" style="left:493.89px;top:456.15px;font-size:9.5px;letter-spacing:0.2px;transform:scale(0.9,1);-webkit-text-stroke:0.1px #000;transform-origin:50% 8px">20.1–38.5</div>
<div class="c" style="left:572.39px;top:456.15px;font-size:9.5px;letter-spacing:0.2px;transform:scale(0.9,1);-webkit-text-stroke:0.1px #000;transform-origin:50% 8px">18.1–34.5</div>
<div style="left:11.00px;top:465.90px;font-size:9.5px;letter-spacing:0.3px;transform:scale(0.87,1);-webkit-text-stroke:0.2px #000;transform-origin:0 8px">Local Surveys<sup>††</sup></div>
<div style="left:18.70px;top:476.82px;font-size:9.5px;letter-spacing:0.3px;transform:scale(0.87,1);-webkit-text-stroke:0.2px #000;transform-origin:0 8px">Boston PS, MA</div>
<div style="right:478.61px;top:476.82px;font-size:9.5px;letter-spacing:0.55px;transform:scale(0.9,1);-webkit-text-stroke:0.12px #000;transform-origin:100% 8px">5.2</div>
<div style="right:450.21px;top:476.82px;font-size:9.5px;letter-spacing:0.55px;transform:scale(0.9,1);-webkit-text-stroke:0.12px #000;transform-origin:100% 8px">1.9</div>
<div style="right:402.11px;top:476.82px;font-size:9.5px;letter-spacing:0.55px;transform:scale(0.9,1);-webkit-text-stroke:0.12px #000;transform-origin:100% 8px">6.0</div>
<div style="right:374.81px;top:476.82px;font-size:9.5px;letter-spacing:0.55px;transform:scale(0.9,1);-webkit-text-stroke:0.12px #000;transform-origin:100% 8px">2.1</div>
<div style="right:327.00px;top:476.82px;font-size:9.5px;letter-spacing:0.55px;transform:scale(0.9,1);-webkit-text-stroke:0.12px #000;transform-origin:100% 8px">5.6</div>
<div style="right:293.21px;top:476.82px;font-size:9.5px;letter-spacing:0.55px;transform:scale(0.9,1);-webkit-text-stroke:0.12px #000;transform-origin:100% 8px">1.4</div>
<div style="right:219.10px;top:476.82px;font-size:9.5px;letter-spacing:0.55px;transform:scale(0.9,1);-webkit-text-stroke:0.12px #000;transform-origin:100% 8px">24.3</div>
<div style="right:188.31px;top:476.82px;font-size:9.5px;letter-spacing:0.55px;transform:scale(0.9,1);-webkit-text-stroke:0.12px #000;transform-origin:100% 8px">4.4</div>
<div style="right:141.10px;top:476.82px;font-size:9.5px;letter-spacing:0.55px;transform:scale(0.9,1);-webkit-text-stroke:0.12px #000;transform-origin:100% 8px">29.0</div>
<div style="right:109.90px;top:476.82px;font-size:9.5px;letter-spacing:0.55px;transform:scale(0.9,1);-webkit-text-stroke:0.12px #000;transform-origin:100% 8px">4.2</div>
<div style="right:62.11px;top:476.82px;font-size:9.5px;letter-spacing:0.55px;transform:scale(0.9,1);-webkit-text-stroke:0.12px #000;transform-origin:100% 8px">26.6</div>
<div style="right:31.11px;top:476.82px;font-size:9.5px;letter-spacing:0.55px;transform:scale(0.9,1);-webkit-text-stroke:0.12px #000;transform-origin:100% 8px">2.9</div>
<div style="left:18.70px;top:487.67px;font-size:9.5px;letter-spacing:0.3px;transform:scale(0.87,1);-webkit-text-stroke:0.2px #000;transform-origin:0 8px">Broward County PS, FL</div>
<div style="right:478.61px;top:487.67px;font-size:9.5px;letter-spacing:0.55px;transform:scale(0.9,1);-webkit-text-stroke:0.12px #000;transform-origin:100% 8px">2.3</div>
<div style="right:450.21px;top:487.67px;font-size:9.5px;letter-spacing:0.55px;transform:scale(0.9,1);-webkit-text-stroke:0.12px #000;transform-origin:100% 8px">0.8</div>
<div style="right:402.11px;top:487.67px;font-size:9.5px;letter-spacing:0.55px;transform:scale(0.9,1);-webkit-text-stroke:0.12px #000;transform-origin:100% 8px">5.7</div>
<div style="right:374.81px;top:487.67px;font-size:9.5px;letter-spacing:0.55px;transform:scale(0.9,1);-webkit-text-stroke:0.12px #000;transform-origin:100% 8px">2.1</div>
<div style="right:327.00px;top:487.67px;font-size:9.5px;letter-spacing:0.55px;transform:scale(0.9,1);-webkit-text-stroke:0.12px #000;transform-origin:100% 8px">4.0</div>
<div style="right:293.21px;top:487.67px;font-size:9.5px;letter-spacing:0.55px;transform:scale(0.9,1);-webkit-text-stroke:0.12px #000;transform-origin:100% 8px">1.1</div>
<div style="right:219.10px;top:487.67px;font-size:9.5px;letter-spacing:0.55px;transform:scale(0.9,1);-webkit-text-stroke:0.12px #000;transform-origin:100% 8px">24.2</div>
<div style="right:188.31px;top:487.67px;font-size:9.5px;letter-spacing:0.55px;transform:scale(0.9,1);-webkit-text-stroke:0.12px #000;transform-origin:100% 8px">3.3</div>
<div style="right:141.10px;top:487.67px;font-size:9.5px;letter-spacing:0.55px;transform:scale(0.9,1);-webkit-text-stroke:0.12px #000;transform-origin:100% 8px">32.1</div>
<div style="right:109.90px;top:487.67px;font-size:9.5px;letter-spacing:0.55px;transform:scale(0.9,1);-webkit-text-stroke:0.12px #000;transform-origin:100% 8px">4.1</div>
<div style="right:62.11px;top:487.67px;font-size:9.5px;letter-spacing:0.55px;transform:scale(0.9,1);-webkit-text-stroke:0.12px #000;transform-origin:100% 8px">28.1</div>
<div style="right:31.11px;top:487.67px;font-size:9.5px;letter-spacing:0.55px;transform:scale(0.9,1);-webkit-text-stroke:0.12px #000;transform-origin:100% 8px">2.9</div>
<div style="left:18.70px;top:498.52px;font-size:9.5px;letter-spacing:0.3px;transform:scale(0.87,1);-webkit-text-stroke:0.2px #000;transform-origin:0 8px">Chicago PS, IL</div>
<div style="right:478.61px;top:498.52px;font-size:9.5px;letter-spacing:0.55px;transform:scale(0.9,1);-webkit-text-stroke:0.12px #000;transform-origin:100% 8px">6.4</div>
<div style="right:450.21px;top:498.52px;font-size:9.5px;letter-spacing:0.55px;transform:scale(0.9,1);-webkit-text-stroke:0.12px #000;transform-origin:100% 8px">2.3</div>
<div style="right:402.11px;top:498.52px;font-size:9.5px;letter-spacing:0.55px;transform:scale(0.9,1);-webkit-text-stroke:0.12px #000;transform-origin:100% 8px">10.0</div>
<div style="right:374.81px;top:498.52px;font-size:9.5px;letter-spacing:0.55px;transform:scale(0.9,1);-webkit-text-stroke:0.12px #000;transform-origin:100% 8px">3.5</div>
<div style="right:327.00px;top:498.52px;font-size:9.5px;letter-spacing:0.55px;transform:scale(0.9,1);-webkit-text-stroke:0.12px #000;transform-origin:100% 8px">8.1</div>
<div style="right:293.21px;top:498.52px;font-size:9.5px;letter-spacing:0.55px;transform:scale(0.9,1);-webkit-text-stroke:0.12px #000;transform-origin:100% 8px">2.3</div>
<div style="right:219.10px;top:498.52px;font-size:9.5px;letter-spacing:0.55px;transform:scale(0.9,1);-webkit-text-stroke:0.12px #000;transform-origin:100% 8px">34.1</div>
<div style="right:188.31px;top:498.52px;font-size:9.5px;letter-spacing:0.55px;transform:scale(0.9,1);-webkit-text-stroke:0.12px #000;transform-origin:100% 8px">4.8</div>
<div style="right:141.10px;top:498.52px;font-size:9.5px;letter-spacing:0.55px;transform:scale(0.9,1);-webkit-text-stroke:0.12px #000;transform-origin:100% 8px">42.5</div>
<div style="right:109.90px;top:498.52px;font-size:9.5px;letter-spacing:0.55px;transform:scale(0.9,1);-webkit-text-stroke:0.12px #000;transform-origin:100% 8px">5.7</div>
<div style="right:62.11px;top:498.52px;font-size:9.5px;letter-spacing:0.55px;transform:scale(0.9,1);-webkit-text-stroke:0.12px #000;transform-origin:100% 8px">38.1</div>
<div style="right:31.11px;top:498.52px;font-size:9.5px;letter-spacing:0.55px;transform:scale(0.9,1);-webkit-text-stroke:0.12px #000;transform-origin:100% 8px">4.4</div>
<div style="left:18.70px;top:509.37px;font-size:9.5px;letter-spacing:0.3px;transform:scale(0.87,1);-webkit-text-stroke:0.2px #000;transform-origin:0 8px">Dallas ISD, TX</div>
<div style="right:478.61px;top:509.37px;font-size:9.5px;letter-spacing:0.55px;transform:scale(0.9,1);-webkit-text-stroke:0.12px #000;transform-origin:100% 8px">4.3</div>
<div style="right:450.21px;top:509.37px;font-size:9.5px;letter-spacing:0.55px;transform:scale(0.9,1);-webkit-text-stroke:0.12px #000;transform-origin:100% 8px">1.2</div>
<div style="right:402.11px;top:509.37px;font-size:9.5px;letter-spacing:0.55px;transform:scale(0.9,1);-webkit-text-stroke:0.12px #000;transform-origin:100% 8px">11.3</div>
<div style="right:374.81px;top:509.37px;font-size:9.5px;letter-spacing:0.55px;transform:scale(0.9,1);-webkit-text-stroke:0.12px #000;transform-origin:100% 8px">2.5</div>
<div style="right:327.00px;top:509.37px;font-size:9.5px;letter-spacing:0.55px;transform:scale(0.9,1);-webkit-text-stroke:0.12px #000;transform-origin:100% 8px">7.7</div>
<div style="right:293.21px;top:509.37px;font-size:9.5px;letter-spacing:0.55px;transform:scale(0.9,1);-webkit-text-stroke:0.12px #000;transform-origin:100% 8px">1.3</div>
<div style="right:219.10px;top:509.37px;font-size:9.5px;letter-spacing:0.55px;transform:scale(0.9,1);-webkit-text-stroke:0.12px #000;transform-origin:100% 8px">34.7</div>
<div style="right:188.31px;top:509.37px;font-size:9.5px;letter-spacing:0.55px;transform:scale(0.9,1);-webkit-text-stroke:0.12px #000;transform-origin:100% 8px">3.3</div>
<div style="right:141.10px;top:509.37px;font-size:9.5px;letter-spacing:0.55px;transform:scale(0.9,1);-webkit-text-stroke:0.12px #000;transform-origin:100% 8px">43.8</div>
<div style="right:109.90px;top:509.37px;font-size:9.5px;letter-spacing:0.55px;transform:scale(0.9,1);-webkit-text-stroke:0.12px #000;transform-origin:100% 8px">4.8</div>
<div style="right:62.11px;top:509.37px;font-size:9.5px;letter-spacing:0.55px;transform:scale(0.9,1);-webkit-text-stroke:0.12px #000;transform-origin:100% 8px">39.2</div>
<div style="right:31.11px;top:509.37px;font-size:9.5px;letter-spacing:0.55px;transform:scale(0.9,1);-webkit-text-stroke:0.12px #000;transform-origin:100% 8px">2.8</div>
<div style="left:18.70px;top:520.22px;font-size:9.5px;letter-spacing:0.3px;transform:scale(0.87,1);-webkit-text-stroke:0.2px #000;transform-origin:0 8px">DeKalb County PS, GA</div>
<div style="right:478.61px;top:520.22px;font-size:9.5px;letter-spacing:0.55px;transform:scale(0.9,1);-webkit-text-stroke:0.12px #000;transform-origin:100% 8px">2.4</div>
<div style="right:450.21px;top:520.22px;font-size:9.5px;letter-spacing:0.55px;transform:scale(0.9,1);-webkit-text-stroke:0.12px #000;transform-origin:100% 8px">0.9</div>
<div style="right:402.11px;top:520.22px;font-size:9.5px;letter-spacing:0.55px;transform:scale(0.9,1);-webkit-text-stroke:0.12px #000;transform-origin:100% 8px">5.6</div>
<div style="right:374.81px;top:520.22px;font-size:9.5px;letter-spacing:0.55px;transform:scale(0.9,1);-webkit-text-stroke:0.12px #000;transform-origin:100% 8px">1.8</div>
<div style="right:327.00px;top:520.22px;font-size:9.5px;letter-spacing:0.55px;transform:scale(0.9,1);-webkit-text-stroke:0.12px #000;transform-origin:100% 8px">4.0</div>
<div style="right:293.21px;top:520.22px;font-size:9.5px;letter-spacing:0.55px;transform:scale(0.9,1);-webkit-text-stroke:0.12px #000;transform-origin:100% 8px">1.0</div>
<div style="right:219.10px;top:520.22px;font-size:9.5px;letter-spacing:0.55px;transform:scale(0.9,1);-webkit-text-stroke:0.12px #000;transform-origin:100% 8px">26.8</div>
<div style="right:188.31px;top:520.22px;font-size:9.5px;letter-spacing:0.55px;transform:scale(0.9,1);-webkit-text-stroke:0.12px #000;transform-origin:100% 8px">2.9</div>
<div style="right:141.10px;top:520.22px;font-size:9.5px;letter-spacing:0.55px;transform:scale(0.9,1);-webkit-text-stroke:0.12px #000;transform-origin:100% 8px">41.0</div>
<div style="right:109.90px;top:520.22px;font-size:9.5px;letter-spacing:0.55px;transform:scale(0.9,1);-webkit-text-stroke:0.12px #000;transform-origin:100% 8px">3.1</div>
<div style="right:62.11px;top:520.22px;font-size:9.5px;letter-spacing:0.55px;transform:scale(0.9,1);-webkit-text-stroke:0.12px #000;transform-origin:100% 8px">33.9</div>
<div style="right:31.11px;top:520.22px;font-size:9.5px;letter-spacing:0.55px;transform:scale(0.9,1);-webkit-text-stroke:0.12px #000;transform-origin:100% 8px">2.1</div>
<div style="left:18.70px;top:531.07px;font-size:9.5px;letter-spacing:0.3px;transform:scale(0.87,1);-webkit-text-stroke:0.2px #000;transform-origin:0 8px">Detroit PS, MI</div>
<div style="right:478.61px;top:531.07px;font-size:9.5px;letter-spacing:0.55px;transform:scale(0.9,1);-webkit-text-stroke:0.12px #000;transform-origin:100% 8px">7.4</div>
<div style="right:450.21px;top:531.07px;font-size:9.5px;letter-spacing:0.55px;transform:scale(0.9,1);-webkit-text-stroke:0.12px #000;transform-origin:100% 8px">2.4</div>
<div style="right:402.11px;top:531.07px;font-size:9.5px;letter-spacing:0.55px;transform:scale(0.9,1);-webkit-text-stroke:0.12px #000;transform-origin:100% 8px">9.2</div>
<div style="right:374.81px;top:531.07px;font-size:9.5px;letter-spacing:0.55px;transform:scale(0.9,1);-webkit-text-stroke:0.12px #000;transform-origin:100% 8px">2.2</div>
<div style="right:327.00px;top:531.07px;font-size:9.5px;letter-spacing:0.55px;transform:scale(0.9,1);-webkit-text-stroke:0.12px #000;transform-origin:100% 8px">8.2</div>
<div style="right:293.21px;top:531.07px;font-size:9.5px;letter-spacing:0.55px;transform:scale(0.9,1);-webkit-text-stroke:0.12px #000;transform-origin:100% 8px">1.8</div>
<div style="right:219.10px;top:531.07px;font-size:9.5px;letter-spacing:0.55px;transform:scale(0.9,1);-webkit-text-stroke:0.12px #000;transform-origin:100% 8px">29.1</div>
<div style="right:188.31px;top:531.07px;font-size:9.5px;letter-spacing:0.55px;transform:scale(0.9,1);-webkit-text-stroke:0.12px #000;transform-origin:100% 8px">3.9</div>
<div style="right:141.10px;top:531.07px;font-size:9.5px;letter-spacing:0.55px;transform:scale(0.9,1);-webkit-text-stroke:0.12px #000;transform-origin:100% 8px">39.3</div>
<div style="right:109.90px;top:531.07px;font-size:9.5px;letter-spacing:0.55px;transform:scale(0.9,1);-webkit-text-stroke:0.12px #000;transform-origin:100% 8px">4.0</div>
<div style="right:62.11px;top:531.07px;font-size:9.5px;letter-spacing:0.55px;transform:scale(0.9,1);-webkit-text-stroke:0.12px #000;transform-origin:100% 8px">33.9</div>
<div style="right:31.11px;top:531.07px;font-size:9.5px;letter-spacing:0.55px;transform:scale(0.9,1);-webkit-text-stroke:0.12px #000;transform-origin:100% 8px">2.4</div>
<div style="left:18.70px;top:541.91px;font-size:9.5px;letter-spacing:0.3px;transform:scale(0.87,1);-webkit-text-stroke:0.2px #000;transform-origin:0 8px">District of Columbia PS</div>
<div style="right:478.61px;top:541.91px;font-size:9.5px;letter-spacing:0.55px;transform:scale(0.9,1);-webkit-text-stroke:0.12px #000;transform-origin:100% 8px">4.7</div>
<div style="right:450.21px;top:541.91px;font-size:9.5px;letter-spacing:0.55px;transform:scale(0.9,1);-webkit-text-stroke:0.12px #000;transform-origin:100% 8px">1.6</div>
<div style="right:402.11px;top:541.91px;font-size:9.5px;letter-spacing:0.55px;transform:scale(0.9,1);-webkit-text-stroke:0.12px #000;transform-origin:100% 8px">10.4</div>
<div style="right:374.81px;top:541.91px;font-size:9.5px;letter-spacing:0.55px;transform:scale(0.9,1);-webkit-text-stroke:0.12px #000;transform-origin:100% 8px">2.8</div>
<div style="right:327.00px;top:541.91px;font-size:9.5px;letter-spacing:0.55px;transform:scale(0.9,1);-webkit-text-stroke:0.12px #000;transform-origin:100% 8px">7.5</div>
<div style="right:293.21px;top:541.91px;font-size:9.5px;letter-spacing:0.55px;transform:scale(0.9,1);-webkit-text-stroke:0.12px #000;transform-origin:100% 8px">1.7</div>
<div style="right:219.10px;top:541.91px;font-size:9.5px;letter-spacing:0.55px;transform:scale(0.9,1);-webkit-text-stroke:0.12px #000;transform-origin:100% 8px">26.8</div>
<div style="right:188.31px;top:541.91px;font-size:9.5px;letter-spacing:0.55px;transform:scale(0.9,1);-webkit-text-stroke:0.12px #000;transform-origin:100% 8px">3.1</div>
<div style="right:141.10px;top:541.91px;font-size:9.5px;letter-spacing:0.55px;transform:scale(0.9,1);-webkit-text-stroke:0.12px #000;transform-origin:100% 8px">33.9</div>
<div style="right:109.90px;top:541.91px;font-size:9.5px;letter-spacing:0.55px;transform:scale(0.9,1);-webkit-text-stroke:0.12px #000;transform-origin:100% 8px">4.4</div>
<div style="right:62.11px;top:541.91px;font-size:9.5px;letter-spacing:0.55px;transform:scale(0.9,1);-webkit-text-stroke:0.12px #000;transform-origin:100% 8px">30.2</div>
<div style="right:31.11px;top:541.91px;font-size:9.5px;letter-spacing:0.55px;transform:scale(0.9,1);-webkit-text-stroke:0.12px #000;transform-origin:100% 8px">2.9</div>
<div style="left:18.70px;top:552.76px;font-size:9.5px;letter-spacing:0.3px;transform:scale(0.87,1);-webkit-text-stroke:0.2px #000;transform-origin:0 8px">Los Angeles USD, CA</div>
<div style="right:478.61px;top:552.76px;font-size:9.5px;letter-spacing:0.55px;transform:scale(0.9,1);-webkit-text-stroke:0.12px #000;transform-origin:100% 8px">4.7</div>
<div style="right:450.21px;top:552.76px;font-size:9.5px;letter-spacing:0.55px;transform:scale(0.9,1);-webkit-text-stroke:0.12px #000;transform-origin:100% 8px">2.8</div>
<div style="right:402.11px;top:552.76px;font-size:9.5px;letter-spacing:0.55px;transform:scale(0.9,1);-webkit-text-stroke:0.12px #000;transform-origin:100% 8px">10.2</div>
<div style="right:374.81px;top:552.76px;font-size:9.5px;letter-spacing:0.55px;transform:scale(0.9,1);-webkit-text-stroke:0.12px #000;transform-origin:100% 8px">2.5</div>
<div style="right:327.00px;top:552.76px;font-size:9.5px;letter-spacing:0.55px;transform:scale(0.9,1);-webkit-text-stroke:0.12px #000;transform-origin:100% 8px">7.5</div>
<div style="right:293.21px;top:552.76px;font-size:9.5px;letter-spacing:0.55px;transform:scale(0.9,1);-webkit-text-stroke:0.12px #000;transform-origin:100% 8px">2.4</div>
<div style="right:219.10px;top:552.76px;font-size:9.5px;letter-spacing:0.55px;transform:scale(0.9,1);-webkit-text-stroke:0.12px #000;transform-origin:100% 8px">34.6</div>
<div style="right:188.31px;top:552.76px;font-size:9.5px;letter-spacing:0.55px;transform:scale(0.9,1);-webkit-text-stroke:0.12px #000;transform-origin:100% 8px">3.8</div>
<div style="right:141.10px;top:552.76px;font-size:9.5px;letter-spacing:0.55px;transform:scale(0.9,1);-webkit-text-stroke:0.12px #000;transform-origin:100% 8px">40.3</div>
<div style="right:109.90px;top:552.76px;font-size:9.5px;letter-spacing:0.55px;transform:scale(0.9,1);-webkit-text-stroke:0.12px #000;transform-origin:100% 8px">4.1</div>
<div style="right:62.11px;top:552.76px;font-size:9.5px;letter-spacing:0.55px;transform:scale(0.9,1);-webkit-text-stroke:0.12px #000;transform-origin:100% 8px">37.5</div>
<div style="right:31.11px;top:552.76px;font-size:9.5px;letter-spacing:0.55px;transform:scale(0.9,1);-webkit-text-stroke:0.12px #000;transform-origin:100% 8px">3.6</div>
<div style="left:18.70px;top:563.61px;font-size:9.5px;letter-spacing:0.3px;transform:scale(0.87,1);-webkit-text-stroke:0.2px #000;transform-origin:0 8px">Memphis PS, TN</div>
<div style="right:478.61px;top:563.61px;font-size:9.5px;letter-spacing:0.55px;transform:scale(0.9,1);-webkit-text-stroke:0.12px #000;transform-origin:100% 8px">5.0</div>
<div style="right:450.21px;top:563.61px;font-size:9.5px;letter-spacing:0.55px;transform:scale(0.9,1);-webkit-text-stroke:0.12px #000;transform-origin:100% 8px">1.3</div>
<div style="right:402.11px;top:563.61px;font-size:9.5px;letter-spacing:0.55px;transform:scale(0.9,1);-webkit-text-stroke:0.12px #000;transform-origin:100% 8px">8.3</div>
<div style="right:374.81px;top:563.61px;font-size:9.5px;letter-spacing:0.55px;transform:scale(0.9,1);-webkit-text-stroke:0.12px #000;transform-origin:100% 8px">2.3</div>
<div style="right:327.00px;top:563.61px;font-size:9.5px;letter-spacing:0.55px;transform:scale(0.9,1);-webkit-text-stroke:0.12px #000;transform-origin:100% 8px">6.7</div>
<div style="right:293.21px;top:563.61px;font-size:9.5px;letter-spacing:0.55px;transform:scale(0.9,1);-webkit-text-stroke:0.12px #000;transform-origin:100% 8px">1.2</div>
<div style="right:219.10px;top:563.61px;font-size:9.5px;letter-spacing:0.55px;transform:scale(0.9,1);-webkit-text-stroke:0.12px #000;transform-origin:100% 8px">20.5</div>
<div style="right:188.31px;top:563.61px;font-size:9.5px;letter-spacing:0.55px;transform:scale(0.9,1);-webkit-text-stroke:0.12px #000;transform-origin:100% 8px">2.7</div>
<div style="right:141.10px;top:563.61px;font-size:9.5px;letter-spacing:0.55px;transform:scale(0.9,1);-webkit-text-stroke:0.12px #000;transform-origin:100% 8px">37.2</div>
<div style="right:109.90px;top:563.61px;font-size:9.5px;letter-spacing:0.55px;transform:scale(0.9,1);-webkit-text-stroke:0.12px #000;transform-origin:100% 8px">4.8</div>
<div style="right:62.11px;top:563.61px;font-size:9.5px;letter-spacing:0.55px;transform:scale(0.9,1);-webkit-text-stroke:0.12px #000;transform-origin:100% 8px">29.0</div>
<div style="right:31.11px;top:563.61px;font-size:9.5px;letter-spacing:0.55px;transform:scale(0.9,1);-webkit-text-stroke:0.12px #000;transform-origin:100% 8px">3.2</div>
<div style="left:18.70px;top:574.46px;font-size:9.5px;letter-spacing:0.3px;transform:scale(0.87,1);-webkit-text-stroke:0.2px #000;transform-origin:0 8px">Miami-Dade County PS, FL</div>
<div style="right:478.61px;top:574.46px;font-size:9.5px;letter-spacing:0.55px;transform:scale(0.9,1);-webkit-text-stroke:0.12px #000;transform-origin:100% 8px">2.5</div>
<div style="right:450.21px;top:574.46px;font-size:9.5px;letter-spacing:0.55px;transform:scale(0.9,1);-webkit-text-stroke:0.12px #000;transform-origin:100% 8px">1.0</div>
<div style="right:402.11px;top:574.46px;font-size:9.5px;letter-spacing:0.55px;transform:scale(0.9,1);-webkit-text-stroke:0.12px #000;transform-origin:100% 8px">7.3</div>
<div style="right:374.81px;top:574.46px;font-size:9.5px;letter-spacing:0.55px;transform:scale(0.9,1);-webkit-text-stroke:0.12px #000;transform-origin:100% 8px">1.7</div>
<div style="right:327.00px;top:574.46px;font-size:9.5px;letter-spacing:0.55px;transform:scale(0.9,1);-webkit-text-stroke:0.12px #000;transform-origin:100% 8px">4.9</div>
<div style="right:293.21px;top:574.46px;font-size:9.5px;letter-spacing:0.55px;transform:scale(0.9,1);-webkit-text-stroke:0.12px #000;transform-origin:100% 8px">1.0</div>
<div style="right:219.10px;top:574.46px;font-size:9.5px;letter-spacing:0.55px;transform:scale(0.9,1);-webkit-text-stroke:0.12px #000;transform-origin:100% 8px">20.2</div>
<div style="right:188.31px;top:574.46px;font-size:9.5px;letter-spacing:0.55px;transform:scale(0.9,1);-webkit-text-stroke:0.12px #000;transform-origin:100% 8px">3.4</div>
<div style="right:141.10px;top:574.46px;font-size:9.5px;letter-spacing:0.55px;transform:scale(0.9,1);-webkit-text-stroke:0.12px #000;transform-origin:100% 8px">30.0</div>
<div style="right:109.90px;top:574.46px;font-size:9.5px;letter-spacing:0.55px;transform:scale(0.9,1);-webkit-text-stroke:0.12px #000;transform-origin:100% 8px">3.8</div>
<div style="right:62.11px;top:574.46px;font-size:9.5px;letter-spacing:0.55px;transform:scale(0.9,1);-webkit-text-stroke:0.12px #000;transform-origin:100% 8px">25.1</div>
<div style="right:31.11px;top:574.46px;font-size:9.5px;letter-spacing:0.55px;transform:scale(0.9,1);-webkit-text-stroke:0.12px #000;transform-origin:100% 8px">2.4</div>
<div style="left:18.70px;top:585.31px;font-size:9.5px;letter-spacing:0.3px;transform:scale(0.87,1);-webkit-text-stroke:0.2px #000;transform-origin:0 8px">Milwaukee PS, WI</div>
<div style="right:478.61px;top:585.31px;font-size:9.5px;letter-spacing:0.55px;transform:scale(0.9,1);-webkit-text-stroke:0.12px #000;transform-origin:100% 8px">—</div>
<div style="right:450.21px;top:585.31px;font-size:9.5px;letter-spacing:0.55px;transform:scale(0.9,1);-webkit-text-stroke:0.12px #000;transform-origin:100% 8px">—</div>
<div style="right:402.11px;top:585.31px;font-size:9.5px;letter-spacing:0.55px;transform:scale(0.9,1);-webkit-text-stroke:0.12px #000;transform-origin:100% 8px">—</div>
<div style="right:374.81px;top:585.31px;font-size:9.5px;letter-spacing:0.55px;transform:scale(0.9,1);-webkit-text-stroke:0.12px #000;transform-origin:100% 8px">—</div>
<div style="right:327.00px;top:585.31px;font-size:9.5px;letter-spacing:0.55px;transform:scale(0.9,1);-webkit-text-stroke:0.12px #000;transform-origin:100% 8px">—</div>
<div style="right:293.21px;top:585.31px;font-size:9.5px;letter-spacing:0.55px;transform:scale(0.9,1);-webkit-text-stroke:0.12px #000;transform-origin:100% 8px">—</div>
<div style="right:219.10px;top:585.31px;font-size:9.5px;letter-spacing:0.55px;transform:scale(0.9,1);-webkit-text-stroke:0.12px #000;transform-origin:100% 8px">27.8</div>
<div style="right:188.31px;top:585.31px;font-size:9.5px;letter-spacing:0.55px;transform:scale(0.9,1);-webkit-text-stroke:0.12px #000;transform-origin:100% 8px">3.7</div>
<div style="right:141.10px;top:585.31px;font-size:9.5px;letter-spacing:0.55px;transform:scale(0.9,1);-webkit-text-stroke:0.12px #000;transform-origin:100% 8px">37.8</div>
<div style="right:109.90px;top:585.31px;font-size:9.5px;letter-spacing:0.55px;transform:scale(0.9,1);-webkit-text-stroke:0.12px #000;transform-origin:100% 8px">4.4</div>
<div style="right:62.11px;top:585.31px;font-size:9.5px;letter-spacing:0.55px;transform:scale(0.9,1);-webkit-text-stroke:0.12px #000;transform-origin:100% 8px">32.6</div>
<div style="right:31.11px;top:585.31px;font-size:9.5px;letter-spacing:0.55px;transform:scale(0.9,1);-webkit-text-stroke:0.12px #000;transform-origin:100% 8px">3.0</div>
<div style="left:18.70px;top:596.16px;font-size:9.5px;letter-spacing:0.3px;transform:scale(0.87,1);-webkit-text-stroke:0.2px #000;transform-origin:0 8px">New Orleans PS, LA</div>
<div style="right:478.61px;top:596.16px;font-size:9.5px;letter-spacing:0.55px;transform:scale(0.9,1);-webkit-text-stroke:0.12px #000;transform-origin:100% 8px">4.8</div>
<div style="right:450.21px;top:596.16px;font-size:9.5px;letter-spacing:0.55px;transform:scale(0.9,1);-webkit-text-stroke:0.12px #000;transform-origin:100% 8px">1.6</div>
<div style="right:402.11px;top:596.16px;font-size:9.5px;letter-spacing:0.55px;transform:scale(0.9,1);-webkit-text-stroke:0.12px #000;transform-origin:100% 8px">7.6</div>
<div style="right:374.81px;top:596.16px;font-size:9.5px;letter-spacing:0.55px;transform:scale(0.9,1);-webkit-text-stroke:0.12px #000;transform-origin:100% 8px">2.7</div>
<div style="right:327.00px;top:596.16px;font-size:9.5px;letter-spacing:0.55px;transform:scale(0.9,1);-webkit-text-stroke:0.12px #000;transform-origin:100% 8px">6.1</div>
<div style="right:293.21px;top:596.16px;font-size:9.5px;letter-spacing:0.55px;transform:scale(0.9,1);-webkit-text-stroke:0.12px #000;transform-origin:100% 8px">1.8</div>
<div style="right:219.10px;top:596.16px;font-size:9.5px;letter-spacing:0.55px;transform:scale(0.9,1);-webkit-text-stroke:0.12px #000;transform-origin:100% 8px">13.2</div>
<div style="right:188.31px;top:596.16px;font-size:9.5px;letter-spacing:0.55px;transform:scale(0.9,1);-webkit-text-stroke:0.12px #000;transform-origin:100% 8px">2.4</div>
<div style="right:141.10px;top:596.16px;font-size:9.5px;letter-spacing:0.55px;transform:scale(0.9,1);-webkit-text-stroke:0.12px #000;transform-origin:100% 8px">24.0</div>
<div style="right:109.90px;top:596.16px;font-size:9.5px;letter-spacing:0.55px;transform:scale(0.9,1);-webkit-text-stroke:0.12px #000;transform-origin:100% 8px">4.0</div>
<div style="right:62.11px;top:596.16px;font-size:9.5px;letter-spacing:0.55px;transform:scale(0.9,1);-webkit-text-stroke:0.12px #000;transform-origin:100% 8px">18.3</div>
<div style="right:31.11px;top:596.16px;font-size:9.5px;letter-spacing:0.55px;transform:scale(0.9,1);-webkit-text-stroke:0.12px #000;transform-origin:100% 8px">2.6</div>
<div style="left:18.70px;top:607.01px;font-size:9.5px;letter-spacing:0.3px;transform:scale(0.87,1);-webkit-text-stroke:0.2px #000;transform-origin:0 8px">New York City PS, NY</div>
<div style="right:478.61px;top:607.01px;font-size:9.5px;letter-spacing:0.55px;transform:scale(0.9,1);-webkit-text-stroke:0.12px #000;transform-origin:100% 8px">3.5</div>
<div style="right:450.21px;top:607.01px;font-size:9.5px;letter-spacing:0.55px;transform:scale(0.9,1);-webkit-text-stroke:0.12px #000;transform-origin:100% 8px">1.0</div>
<div style="right:402.11px;top:607.01px;font-size:9.5px;letter-spacing:0.55px;transform:scale(0.9,1);-webkit-text-stroke:0.12px #000;transform-origin:100% 8px">6.5</div>
<div style="right:374.81px;top:607.01px;font-size:9.5px;letter-spacing:0.55px;transform:scale(0.9,1);-webkit-text-stroke:0.12px #000;transform-origin:100% 8px">1.1</div>
<div style="right:327.00px;top:607.01px;font-size:9.5px;letter-spacing:0.55px;transform:scale(0.9,1);-webkit-text-stroke:0.12px #000;transform-origin:100% 8px">5.0</div>
<div style="right:293.21px;top:607.01px;font-size:9.5px;letter-spacing:0.55px;transform:scale(0.9,1);-webkit-text-stroke:0.12px #000;transform-origin:100% 8px">0.8</div>
<div style="right:219.10px;top:607.01px;font-size:9.5px;letter-spacing:0.55px;transform:scale(0.9,1);-webkit-text-stroke:0.12px #000;transform-origin:100% 8px">17.8</div>
<div style="right:188.31px;top:607.01px;font-size:9.5px;letter-spacing:0.55px;transform:scale(0.9,1);-webkit-text-stroke:0.12px #000;transform-origin:100% 8px">2.2</div>
<div style="right:141.10px;top:607.01px;font-size:9.5px;letter-spacing:0.55px;transform:scale(0.9,1);-webkit-text-stroke:0.12px #000;transform-origin:100% 8px">25.8</div>
<div style="right:109.90px;top:607.01px;font-size:9.5px;letter-spacing:0.55px;transform:scale(0.9,1);-webkit-text-stroke:0.12px #000;transform-origin:100% 8px">1.7</div>
<div style="right:62.11px;top:607.01px;font-size:9.5px;letter-spacing:0.55px;transform:scale(0.9,1);-webkit-text-stroke:0.12px #000;transform-origin:100% 8px">21.9</div>
<div style="right:31.11px;top:607.01px;font-size:9.5px;letter-spacing:0.55px;transform:scale(0.9,1);-webkit-text-stroke:0.12px #000;transform-origin:100% 8px">1.6</div>
<div style="left:18.70px;top:617.86px;font-size:9.5px;letter-spacing:0.3px;transform:scale(0.87,1);-webkit-text-stroke:0.2px #000;transform-origin:0 8px">Orange County PS, FL</div>
<div style="right:478.61px;top:617.86px;font-size:9.5px;letter-spacing:0.55px;transform:scale(0.9,1);-webkit-text-stroke:0.12px #000;transform-origin:100% 8px">2.3</div>
<div style="right:450.21px;top:617.86px;font-size:9.5px;letter-spacing:0.55px;transform:scale(0.9,1);-webkit-text-stroke:0.12px #000;transform-origin:100% 8px">1.6</div>
<div style="right:402.11px;top:617.86px;font-size:9.5px;letter-spacing:0.55px;transform:scale(0.9,1);-webkit-text-stroke:0.12px #000;transform-origin:100% 8px">4.2</div>
<div style="right:374.81px;top:617.86px;font-size:9.5px;letter-spacing:0.55px;transform:scale(0.9,1);-webkit-text-stroke:0.12px #000;transform-origin:100% 8px">2.2</div>
<div style="right:327.00px;top:617.86px;font-size:9.5px;letter-spacing:0.55px;transform:scale(0.9,1);-webkit-text-stroke:0.12px #000;transform-origin:100% 8px">3.3</div>
<div style="right:293.21px;top:617.86px;font-size:9.5px;letter-spacing:0.55px;transform:scale(0.9,1);-webkit-text-stroke:0.12px #000;transform-origin:100% 8px">1.9</div>
<div style="right:219.10px;top:617.86px;font-size:9.5px;letter-spacing:0.55px;transform:scale(0.9,1);-webkit-text-stroke:0.12px #000;transform-origin:100% 8px">23.5</div>
<div style="right:188.31px;top:617.86px;font-size:9.5px;letter-spacing:0.55px;transform:scale(0.9,1);-webkit-text-stroke:0.12px #000;transform-origin:100% 8px">5.3</div>
<div style="right:141.10px;top:617.86px;font-size:9.5px;letter-spacing:0.55px;transform:scale(0.9,1);-webkit-text-stroke:0.12px #000;transform-origin:100% 8px">33.0</div>
<div style="right:109.90px;top:617.86px;font-size:9.5px;letter-spacing:0.55px;transform:scale(0.9,1);-webkit-text-stroke:0.12px #000;transform-origin:100% 8px">6.0</div>
<div style="right:62.11px;top:617.86px;font-size:9.5px;letter-spacing:0.55px;transform:scale(0.9,1);-webkit-text-stroke:0.12px #000;transform-origin:100% 8px">28.4</div>
<div style="right:31.11px;top:617.86px;font-size:9.5px;letter-spacing:0.55px;transform:scale(0.9,1);-webkit-text-stroke:0.12px #000;transform-origin:100% 8px">2.5</div>
<div style="left:18.70px;top:628.71px;font-size:9.5px;letter-spacing:0.3px;transform:scale(0.87,1);-webkit-text-stroke:0.2px #000;transform-origin:0 8px">Palm Beach County SD, FL</div>
<div style="right:478.61px;top:628.71px;font-size:9.5px;letter-spacing:0.55px;transform:scale(0.9,1);-webkit-text-stroke:0.12px #000;transform-origin:100% 8px">3.5</div>
<div style="right:450.21px;top:628.71px;font-size:9.5px;letter-spacing:0.55px;transform:scale(0.9,1);-webkit-text-stroke:0.12px #000;transform-origin:100% 8px">1.4</div>
<div style="right:402.11px;top:628.71px;font-size:9.5px;letter-spacing:0.55px;transform:scale(0.9,1);-webkit-text-stroke:0.12px #000;transform-origin:100% 8px">9.7</div>
<div style="right:374.81px;top:628.71px;font-size:9.5px;letter-spacing:0.55px;transform:scale(0.9,1);-webkit-text-stroke:0.12px #000;transform-origin:100% 8px">2.4</div>
<div style="right:327.00px;top:628.71px;font-size:9.5px;letter-spacing:0.55px;transform:scale(0.9,1);-webkit-text-stroke:0.12px #000;transform-origin:100% 8px">6.7</div>
<div style="right:293.21px;top:628.71px;font-size:9.5px;letter-spacing:0.55px;transform:scale(0.9,1);-webkit-text-stroke:0.12px #000;transform-origin:100% 8px">1.5</div>
<div style="right:219.10px;top:628.71px;font-size:9.5px;letter-spacing:0.55px;transform:scale(0.9,1);-webkit-text-stroke:0.12px #000;transform-origin:100% 8px">21.8</div>
<div style="right:188.31px;top:628.71px;font-size:9.5px;letter-spacing:0.55px;transform:scale(0.9,1);-webkit-text-stroke:0.12px #000;transform-origin:100% 8px">3.1</div>
<div style="right:141.10px;top:628.71px;font-size:9.5px;letter-spacing:0.55px;transform:scale(0.9,1);-webkit-text-stroke:0.12px #000;transform-origin:100% 8px">32.3</div>
<div style="right:109.90px;top:628.71px;font-size:9.5px;letter-spacing:0.55px;transform:scale(0.9,1);-webkit-text-stroke:0.12px #000;transform-origin:100% 8px">3.8</div>
<div style="right:62.11px;top:628.71px;font-size:9.5px;letter-spacing:0.55px;transform:scale(0.9,1);-webkit-text-stroke:0.12px #000;transform-origin:100% 8px">27.0</div>
<div style="right:31.11px;top:628.71px;font-size:9.5px;letter-spacing:0.55px;transform:scale(0.9,1);-webkit-text-stroke:0.12px #000;transform-origin:100% 8px">2.7</div>
<div style="left:18.70px;top:639.56px;font-size:9.5px;letter-spacing:0.3px;transform:scale(0.87,1);-webkit-text-stroke:0.2px #000;transform-origin:0 8px">Philadelphia SD, PA</div>
<div style="right:478.61px;top:639.56px;font-size:9.5px;letter-spacing:0.55px;transform:scale(0.9,1);-webkit-text-stroke:0.12px #000;transform-origin:100% 8px">5.6</div>
<div style="right:450.21px;top:639.56px;font-size:9.5px;letter-spacing:0.55px;transform:scale(0.9,1);-webkit-text-stroke:0.12px #000;transform-origin:100% 8px">2.1</div>
<div style="right:402.11px;top:639.56px;font-size:9.5px;letter-spacing:0.55px;transform:scale(0.9,1);-webkit-text-stroke:0.12px #000;transform-origin:100% 8px">10.8</div>
<div style="right:374.81px;top:639.56px;font-size:9.5px;letter-spacing:0.55px;transform:scale(0.9,1);-webkit-text-stroke:0.12px #000;transform-origin:100% 8px">3.1</div>
<div style="right:327.00px;top:639.56px;font-size:9.5px;letter-spacing:0.55px;transform:scale(0.9,1);-webkit-text-stroke:0.12px #000;transform-origin:100% 8px">8.1</div>
<div style="right:293.21px;top:639.56px;font-size:9.5px;letter-spacing:0.55px;transform:scale(0.9,1);-webkit-text-stroke:0.12px #000;transform-origin:100% 8px">2.1</div>
<div style="right:219.10px;top:639.56px;font-size:9.5px;letter-spacing:0.55px;transform:scale(0.9,1);-webkit-text-stroke:0.12px #000;transform-origin:100% 8px">28.7</div>
<div style="right:188.31px;top:639.56px;font-size:9.5px;letter-spacing:0.55px;transform:scale(0.9,1);-webkit-text-stroke:0.12px #000;transform-origin:100% 8px">3.5</div>
<div style="right:141.10px;top:639.56px;font-size:9.5px;letter-spacing:0.55px;transform:scale(0.9,1);-webkit-text-stroke:0.12px #000;transform-origin:100% 8px">36.1</div>
<div style="right:109.90px;top:639.56px;font-size:9.5px;letter-spacing:0.55px;transform:scale(0.9,1);-webkit-text-stroke:0.12px #000;transform-origin:100% 8px">3.8</div>
<div style="right:62.11px;top:639.56px;font-size:9.5px;letter-spacing:0.55px;transform:scale(0.9,1);-webkit-text-stroke:0.12px #000;transform-origin:100% 8px">32.3</div>
<div style="right:31.11px;top:639.56px;font-size:9.5px;letter-spacing:0.55px;transform:scale(0.9,1);-webkit-text-stroke:0.12px #000;transform-origin:100% 8px">2.5</div>
<div style="left:18.70px;top:650.40px;font-size:9.5px;letter-spacing:0.3px;transform:scale(0.87,1);-webkit-text-stroke:0.2px #000;transform-origin:0 8px">San Bernardino USD, CA</div>
<div style="right:478.61px;top:650.40px;font-size:9.5px;letter-spacing:0.55px;transform:scale(0.9,1);-webkit-text-stroke:0.12px #000;transform-origin:100% 8px">4.7</div>
<div style="right:450.21px;top:650.40px;font-size:9.5px;letter-spacing:0.55px;transform:scale(0.9,1);-webkit-text-stroke:0.12px #000;transform-origin:100% 8px">1.7</div>
<div style="right:402.11px;top:650.40px;font-size:9.5px;letter-spacing:0.55px;transform:scale(0.9,1);-webkit-text-stroke:0.12px #000;transform-origin:100% 8px">8.0</div>
<div style="right:374.81px;top:650.40px;font-size:9.5px;letter-spacing:0.55px;transform:scale(0.9,1);-webkit-text-stroke:0.12px #000;transform-origin:100% 8px">2.3</div>
<div style="right:327.00px;top:650.40px;font-size:9.5px;letter-spacing:0.55px;transform:scale(0.9,1);-webkit-text-stroke:0.12px #000;transform-origin:100% 8px">6.5</div>
<div style="right:293.21px;top:650.40px;font-size:9.5px;letter-spacing:0.55px;transform:scale(0.9,1);-webkit-text-stroke:0.12px #000;transform-origin:100% 8px">1.5</div>
<div style="right:219.10px;top:650.40px;font-size:9.5px;letter-spacing:0.55px;transform:scale(0.9,1);-webkit-text-stroke:0.12px #000;transform-origin:100% 8px">29.3</div>
<div style="right:188.31px;top:650.40px;font-size:9.5px;letter-spacing:0.55px;transform:scale(0.9,1);-webkit-text-stroke:0.12px #000;transform-origin:100% 8px">2.8</div>
<div style="right:141.10px;top:650.40px;font-size:9.5px;letter-spacing:0.55px;transform:scale(0.9,1);-webkit-text-stroke:0.12px #000;transform-origin:100% 8px">43.3</div>
<div style="right:109.90px;top:650.40px;font-size:9.5px;letter-spacing:0.55px;transform:scale(0.9,1);-webkit-text-stroke:0.12px #000;transform-origin:100% 8px">4.0</div>
<div style="right:62.11px;top:650.40px;font-size:9.5px;letter-spacing:0.55px;transform:scale(0.9,1);-webkit-text-stroke:0.12px #000;transform-origin:100% 8px">36.2</div>
<div style="right:31.11px;top:650.40px;font-size:9.5px;letter-spacing:0.55px;transform:scale(0.9,1);-webkit-text-stroke:0.12px #000;transform-origin:100% 8px">2.5</div>
<div style="left:18.70px;top:661.25px;font-size:9.5px;letter-spacing:0.3px;transform:scale(0.87,1);-webkit-text-stroke:0.2px #000;transform-origin:0 8px">San Diego USD, CA</div>
<div style="right:478.61px;top:661.25px;font-size:9.5px;letter-spacing:0.55px;transform:scale(0.9,1);-webkit-text-stroke:0.12px #000;transform-origin:100% 8px">5.2</div>
<div style="right:450.21px;top:661.25px;font-size:9.5px;letter-spacing:0.55px;transform:scale(0.9,1);-webkit-text-stroke:0.12px #000;transform-origin:100% 8px">1.5</div>
<div style="right:402.11px;top:661.25px;font-size:9.5px;letter-spacing:0.55px;transform:scale(0.9,1);-webkit-text-stroke:0.12px #000;transform-origin:100% 8px">9.9</div>
<div style="right:374.81px;top:661.25px;font-size:9.5px;letter-spacing:0.55px;transform:scale(0.9,1);-webkit-text-stroke:0.12px #000;transform-origin:100% 8px">2.3</div>
<div style="right:327.00px;top:661.25px;font-size:9.5px;letter-spacing:0.55px;transform:scale(0.9,1);-webkit-text-stroke:0.12px #000;transform-origin:100% 8px">7.6</div>
<div style="right:293.21px;top:661.25px;font-size:9.5px;letter-spacing:0.55px;transform:scale(0.9,1);-webkit-text-stroke:0.12px #000;transform-origin:100% 8px">1.4</div>
<div style="right:219.10px;top:661.25px;font-size:9.5px;letter-spacing:0.55px;transform:scale(0.9,1);-webkit-text-stroke:0.12px #000;transform-origin:100% 8px">36.5</div>
<div style="right:188.31px;top:661.25px;font-size:9.5px;letter-spacing:0.55px;transform:scale(0.9,1);-webkit-text-stroke:0.12px #000;transform-origin:100% 8px">4.1</div>
<div style="right:141.10px;top:661.25px;font-size:9.5px;letter-spacing:0.55px;transform:scale(0.9,1);-webkit-text-stroke:0.12px #000;transform-origin:100% 8px">45.2</div>
<div style="right:109.90px;top:661.25px;font-size:9.5px;letter-spacing:0.55px;transform:scale(0.9,1);-webkit-text-stroke:0.12px #000;transform-origin:100% 8px">3.4</div>
<div style="right:62.11px;top:661.25px;font-size:9.5px;letter-spacing:0.55px;transform:scale(0.9,1);-webkit-text-stroke:0.12px #000;transform-origin:100% 8px">41.1</div>
<div style="right:31.11px;top:661.25px;font-size:9.5px;letter-spacing:0.55px;transform:scale(0.9,1);-webkit-text-stroke:0.12px #000;transform-origin:100% 8px">2.9</div>
<div style="left:11.00px;top:674.60px;font-size:9.5px;letter-spacing:0.3px;transform:scale(0.87,1);-webkit-text-stroke:0.2px #000;transform-origin:0 8px">Median</div>
<div style="left:11.00px;top:685.65px;font-size:9.5px;letter-spacing:0.3px;transform:scale(0.87,1);-webkit-text-stroke:0.2px #000;transform-origin:0 8px">Range</div>
<div style="right:478.61px;top:674.60px;font-size:9.5px;letter-spacing:0.55px;transform:scale(0.9,1);-webkit-text-stroke:0.12px #000;transform-origin:100% 8px">4.7</div>
<div style="right:402.11px;top:674.60px;font-size:9.5px;letter-spacing:0.55px;transform:scale(0.9,1);-webkit-text-stroke:0.12px #000;transform-origin:100% 8px">8.3</div>
<div style="right:327.00px;top:674.60px;font-size:9.5px;letter-spacing:0.55px;transform:scale(0.9,1);-webkit-text-stroke:0.12px #000;transform-origin:100% 8px">6.7</div>
<div style="right:219.10px;top:674.60px;font-size:9.5px;letter-spacing:0.55px;transform:scale(0.9,1);-webkit-text-stroke:0.12px #000;transform-origin:100% 8px">26.8</div>
<div style="right:141.10px;top:674.60px;font-size:9.5px;letter-spacing:0.55px;transform:scale(0.9,1);-webkit-text-stroke:0.12px #000;transform-origin:100% 8px">36.6</div>
<div style="right:62.11px;top:674.60px;font-size:9.5px;letter-spacing:0.55px;transform:scale(0.9,1);-webkit-text-stroke:0.12px #000;transform-origin:100% 8px">31.2</div>
<div class="c" style="left:156.39px;top:685.65px;font-size:9.5px;letter-spacing:0.2px;transform:scale(0.9,1);-webkit-text-stroke:0.1px #000;transform-origin:50% 8px">2.3-7.4</div>
<div class="c" style="left:232.29px;top:685.65px;font-size:9.5px;letter-spacing:0.2px;transform:scale(0.9,1);-webkit-text-stroke:0.1px #000;transform-origin:50% 8px">4.2-11.3</div>
<div class="c" style="left:308.49px;top:685.65px;font-size:9.5px;letter-spacing:0.2px;transform:scale(0.9,1);-webkit-text-stroke:0.1px #000;transform-origin:50% 8px">3.3-8.2</div>
<div class="c" style="left:414.49px;top:685.65px;font-size:9.5px;letter-spacing:0.2px;transform:scale(0.9,1);-webkit-text-stroke:0.1px #000;transform-origin:50% 8px">13.2-36.5</div>
<div class="c" style="left:493.89px;top:685.65px;font-size:9.5px;letter-spacing:0.2px;transform:scale(0.9,1);-webkit-text-stroke:0.1px #000;transform-origin:50% 8px">24.0-45.2</div>
<div class="c" style="left:572.39px;top:685.65px;font-size:9.5px;letter-spacing:0.2px;transform:scale(0.9,1);-webkit-text-stroke:0.1px #000;transform-origin:50% 8px">18.3-41.1</div>
<div class="rule" style="left:10px;top:696px;width:676px;height:2px"></div>
<div class="fs" style="right:684.5px;top:699.8px;">*</div>
<div style="left:21.50px;top:700.80px;font-size:9.5px;letter-spacing:0.0px;transform:scale(0.91,1);-webkit-text-stroke:0.05px #000;transform-origin:0 8px">Used marijuana one or more times during the 30 days preceding the survey.</div>
<div class="fs" style="right:684.5px;top:708.4px;">†</div>
<div style="left:21.50px;top:709.40px;font-size:9.5px;letter-spacing:0.0px;transform:scale(0.91,1);-webkit-text-stroke:0.05px #000;transform-origin:0 8px">During the 12 months preceding the survey.</div>
<div class="fs" style="right:684.5px;top:717.0px;">§</div>
<div style="left:21.50px;top:718.00px;font-size:9.5px;letter-spacing:0.0px;transform:scale(0.91,1);-webkit-text-stroke:0.05px #000;transform-origin:0 8px">95% confidence interval.</div>
<div class="fs" style="right:684.5px;top:725.6px;">¶</div>
<div style="left:21.50px;top:726.60px;font-size:9.5px;letter-spacing:0.0px;transform:scale(0.91,1);-webkit-text-stroke:0.05px #000;transform-origin:0 8px">Survey did not include students from one of the state’s large school districts.</div>
<div class="fs" style="right:684.5px;top:735.2px;">**</div>
<div style="left:21.50px;top:735.20px;font-size:9.5px;letter-spacing:0.0px;transform:scale(0.91,1);-webkit-text-stroke:0.05px #000;transform-origin:0 8px">Not available.</div>
<div class="fs" style="right:685.3px;top:742.8px;letter-spacing:-0.8px;">††</div>
<div style="left:21.50px;top:743.80px;font-size:9.5px;letter-spacing:0.0px;transform:scale(0.91,1);-webkit-text-stroke:0.05px #000;transform-origin:0 8px">PS = public school, <i>SD</i> = school district, ISD = independent school district, USD = unified school district.</div>
</div></body></html>
